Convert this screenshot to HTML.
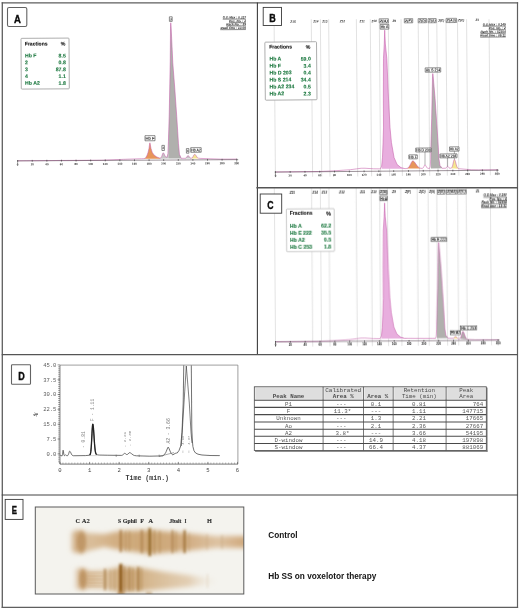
<!DOCTYPE html>
<html lang="en"><head><meta charset="utf-8"><title>Hemoglobin electrophoresis figure</title>
<style>html,body{margin:0;padding:0;background:#fff}svg{display:block}</style></head>
<body>
<svg width="520" height="610" viewBox="0 0 520 610">
<rect width="520" height="610" fill="#fff"/>
<filter id="soft" x="0" y="0" width="520" height="610" filterUnits="userSpaceOnUse"><feGaussianBlur stdDeviation="0.32"/></filter>
<g filter="url(#soft)">
<g id="panelA" transform="rotate(-0.327 17.65 160.9)">
<path d="M144.5,159.45 L144.5,159.21 L145.05,159 L146.05,157.94 L147.15,155.89 L148.1,153.21 L149.1,149.1 L149.75,144.37 L150,143.58 L150.25,144.37 L151,149.08 L152.3,153.16 L154.05,155.8 L156.85,157.8 L159.45,158.79 L160,158.83 L160,159.45 Z" fill="#e7955a" stroke="none"/>
<path d="M160.05,159.45 L160.05,158.84 L160.45,158.81 L161.05,158.52 L161.45,157.93 L161.85,156.99 L162.65,154.58 L162.85,154.11 L163.05,153.8 L163.25,153.68 L163.45,153.72 L163.85,154.19 L165.05,156.81 L165.45,157.43 L166.05,157.9 L166.85,157.97 L167.15,157.92 L167.97,154.36 L168.53,142.56 L168.93,131.47 L168.93,159.45 Z" fill="#c6c6c6" stroke="none"/>
<path d="M184.93,159.45 L184.93,159.32 L185.05,159.3 L185.85,159.04 L186.45,158.49 L187.65,156.81 L188.13,156.56 L188.45,156.68 L189.05,157.4 L189.85,158.56 L190.45,159.08 L191.05,159.25 L191.13,159.25 L191.13,159.45 Z" fill="#c6c6c6" stroke="none"/>
<path d="M168.73,159.45 L168.73,137.07 L169.49,115.86 L170.8,62.79 L171.29,27.57 L171.53,23.65 L171.81,26.44 L173.35,63.8 L175.29,90.84 L176.99,117.57 L178.53,144.19 L179.47,155.21 L181.25,159.29 L182.03,159.31 L182.03,159.45 Z" fill="#b0b0ad" stroke="none"/>
<path d="M191.74,159.45 L191.74,159.11 L191.85,159.05 L192.45,158.54 L193.05,157.65 L194.05,155.86 L194.45,155.43 L194.85,155.34 L195.25,155.56 L195.85,156.31 L197.05,158.18 L197.65,158.8 L198.34,159.2 L198.34,159.45 Z" fill="#f5e690" stroke="none"/>
<path d="M17.65,160.75 L101.65,160.68 L123.45,159.94 L141.65,159.4 L144.05,159.36 L145.05,159 L146.05,157.94 L147.15,155.89 L148.1,153.21 L149.1,149.1 L149.75,144.37 L150,143.58 L150.25,144.37 L151,149.08 L152.3,153.16 L154.05,155.8 L156.85,157.8 L159.45,158.79 L160.45,158.81 L161.05,158.52 L161.45,157.93 L161.85,156.99 L162.65,154.58 L162.85,154.11 L163.05,153.8 L163.25,153.68 L163.45,153.72 L163.85,154.19 L165.05,156.81 L165.45,157.43 L166.05,157.9 L166.85,157.97 L167.15,157.92 L167.97,154.36 L168.53,142.56 L169.49,115.86 L170.8,62.79 L171.29,27.57 L171.53,23.65 L171.81,26.44 L173.35,63.8 L175.29,90.84 L176.99,117.57 L178.53,144.19 L179.47,155.21 L181.25,159.29 L185.05,159.3 L185.85,159.04 L186.45,158.49 L187.65,156.81 L188.13,156.56 L188.45,156.68 L189.05,157.4 L189.85,158.56 L190.45,159.08 L191.05,159.25 L191.85,159.05 L192.45,158.54 L193.05,157.65 L194.05,155.86 L194.45,155.43 L194.85,155.34 L195.25,155.56 L195.85,156.31 L197.05,158.18 L197.65,158.8 L198.45,159.23 L200.05,159.44 L221.05,160.33 L237.05,160.35" fill="none" stroke="#c660aa" stroke-width="0.56" stroke-linejoin="round"/>
<line x1="17.15" y1="160.9" x2="238.2" y2="160.9" stroke="#5a4a55" stroke-width="0.6" />
<line x1="17.65" y1="160" x2="17.65" y2="161.8" stroke="#333" stroke-width="0.6" />
<text x="17.65" y="165.44" font-size="2.9" fill="#222" text-anchor="middle" font-weight="bold" font-style="normal" font-family="&quot;Liberation Sans&quot;, sans-serif" >0</text>
<line x1="32.25" y1="160" x2="32.25" y2="161.8" stroke="#333" stroke-width="0.6" />
<text x="32.25" y="165.44" font-size="2.9" fill="#222" text-anchor="middle" font-weight="bold" font-style="normal" font-family="&quot;Liberation Sans&quot;, sans-serif" >20</text>
<line x1="46.86" y1="160" x2="46.86" y2="161.8" stroke="#333" stroke-width="0.6" />
<text x="46.86" y="165.44" font-size="2.9" fill="#222" text-anchor="middle" font-weight="bold" font-style="normal" font-family="&quot;Liberation Sans&quot;, sans-serif" >40</text>
<line x1="61.46" y1="160" x2="61.46" y2="161.8" stroke="#333" stroke-width="0.6" />
<text x="61.46" y="165.44" font-size="2.9" fill="#222" text-anchor="middle" font-weight="bold" font-style="normal" font-family="&quot;Liberation Sans&quot;, sans-serif" >60</text>
<line x1="76.06" y1="160" x2="76.06" y2="161.8" stroke="#333" stroke-width="0.6" />
<text x="76.06" y="165.44" font-size="2.9" fill="#222" text-anchor="middle" font-weight="bold" font-style="normal" font-family="&quot;Liberation Sans&quot;, sans-serif" >80</text>
<line x1="90.67" y1="160" x2="90.67" y2="161.8" stroke="#333" stroke-width="0.6" />
<text x="90.67" y="165.44" font-size="2.9" fill="#222" text-anchor="middle" font-weight="bold" font-style="normal" font-family="&quot;Liberation Sans&quot;, sans-serif" >100</text>
<line x1="105.27" y1="160" x2="105.27" y2="161.8" stroke="#333" stroke-width="0.6" />
<text x="105.27" y="165.44" font-size="2.9" fill="#222" text-anchor="middle" font-weight="bold" font-style="normal" font-family="&quot;Liberation Sans&quot;, sans-serif" >120</text>
<line x1="119.87" y1="160" x2="119.87" y2="161.8" stroke="#333" stroke-width="0.6" />
<text x="119.87" y="165.44" font-size="2.9" fill="#222" text-anchor="middle" font-weight="bold" font-style="normal" font-family="&quot;Liberation Sans&quot;, sans-serif" >140</text>
<line x1="134.48" y1="160" x2="134.48" y2="161.8" stroke="#333" stroke-width="0.6" />
<text x="134.48" y="165.44" font-size="2.9" fill="#222" text-anchor="middle" font-weight="bold" font-style="normal" font-family="&quot;Liberation Sans&quot;, sans-serif" >160</text>
<line x1="149.08" y1="160" x2="149.08" y2="161.8" stroke="#333" stroke-width="0.6" />
<text x="149.08" y="165.44" font-size="2.9" fill="#222" text-anchor="middle" font-weight="bold" font-style="normal" font-family="&quot;Liberation Sans&quot;, sans-serif" >180</text>
<line x1="163.69" y1="160" x2="163.69" y2="161.8" stroke="#333" stroke-width="0.6" />
<text x="163.69" y="165.44" font-size="2.9" fill="#222" text-anchor="middle" font-weight="bold" font-style="normal" font-family="&quot;Liberation Sans&quot;, sans-serif" >200</text>
<line x1="178.29" y1="160" x2="178.29" y2="161.8" stroke="#333" stroke-width="0.6" />
<text x="178.29" y="165.44" font-size="2.9" fill="#222" text-anchor="middle" font-weight="bold" font-style="normal" font-family="&quot;Liberation Sans&quot;, sans-serif" >220</text>
<line x1="192.89" y1="160" x2="192.89" y2="161.8" stroke="#333" stroke-width="0.6" />
<text x="192.89" y="165.44" font-size="2.9" fill="#222" text-anchor="middle" font-weight="bold" font-style="normal" font-family="&quot;Liberation Sans&quot;, sans-serif" >240</text>
<line x1="207.5" y1="160" x2="207.5" y2="161.8" stroke="#333" stroke-width="0.6" />
<text x="207.5" y="165.44" font-size="2.9" fill="#222" text-anchor="middle" font-weight="bold" font-style="normal" font-family="&quot;Liberation Sans&quot;, sans-serif" >260</text>
<line x1="222.1" y1="160" x2="222.1" y2="161.8" stroke="#333" stroke-width="0.6" />
<text x="222.1" y="165.44" font-size="2.9" fill="#222" text-anchor="middle" font-weight="bold" font-style="normal" font-family="&quot;Liberation Sans&quot;, sans-serif" >280</text>
<line x1="236.7" y1="160" x2="236.7" y2="161.8" stroke="#333" stroke-width="0.6" />
<text x="236.7" y="165.44" font-size="2.9" fill="#222" text-anchor="middle" font-weight="bold" font-style="normal" font-family="&quot;Liberation Sans&quot;, sans-serif" >300</text>
<line x1="17.65" y1="160.1" x2="17.65" y2="165.9" stroke="#555" stroke-width="0.5" />
<line x1="236.7" y1="160.1" x2="236.7" y2="165.9" stroke="#777" stroke-width="0.5" />
<rect x="145.14" y="136.43" width="10" height="5.1" fill="#fff" stroke="#333" stroke-width="0.55" rx="0" />
<text x="150.14" y="140.42" font-size="4.0" fill="#000" text-anchor="middle" font-weight="normal" font-style="normal" font-family="&quot;Liberation Sans&quot;, sans-serif" textLength="9" lengthAdjust="spacingAndGlyphs" stroke="#000" stroke-width="0.06">Hb F</text>
<rect x="170.22" y="17.67" width="2.8" height="4.6" fill="#fff" stroke="#333" stroke-width="0.55" rx="0" />
<text x="171.62" y="21.12" font-size="3.2" fill="#000" text-anchor="middle" font-weight="normal" font-style="normal" font-family="&quot;Liberation Sans&quot;, sans-serif" textLength="1.8" lengthAdjust="spacingAndGlyphs" stroke="#000" stroke-width="0.06">3</text>
<rect x="161.99" y="146.22" width="2.5" height="5.1" fill="#fff" stroke="#333" stroke-width="0.55" rx="0" />
<text x="163.24" y="149.93" font-size="3.2" fill="#000" text-anchor="middle" font-weight="normal" font-style="normal" font-family="&quot;Liberation Sans&quot;, sans-serif" textLength="1.5" lengthAdjust="spacingAndGlyphs" stroke="#000" stroke-width="0.06">2</text>
<rect x="186.47" y="149.56" width="2.5" height="4.6" fill="#fff" stroke="#333" stroke-width="0.55" rx="0" />
<text x="187.72" y="153.02" font-size="3.2" fill="#000" text-anchor="middle" font-weight="normal" font-style="normal" font-family="&quot;Liberation Sans&quot;, sans-serif" textLength="1.5" lengthAdjust="spacingAndGlyphs" stroke="#000" stroke-width="0.06">4</text>
<rect x="190.77" y="148.69" width="10.5" height="4.6" fill="#fff" stroke="#333" stroke-width="0.55" rx="0" />
<text x="196.02" y="152.43" font-size="4.0" fill="#000" text-anchor="middle" font-weight="normal" font-style="normal" font-family="&quot;Liberation Sans&quot;, sans-serif" textLength="9.5" lengthAdjust="spacingAndGlyphs" stroke="#000" stroke-width="0.06">Hb A2</text>
<rect x="21.7" y="38.37" width="48" height="50.75" fill="#fff" stroke="#9a9a9a" stroke-width="0.8" rx="0.8" />
<text x="25.46" y="45.64" font-size="5.2" fill="#151515" text-anchor="start" font-weight="bold" font-style="normal" font-family="&quot;Liberation Sans&quot;, sans-serif" textLength="22.8" lengthAdjust="spacingAndGlyphs" stroke="#151515" stroke-width="0.12">Fractions</text>
<text x="66.16" y="45.87" font-size="5.2" fill="#151515" text-anchor="end" font-weight="bold" font-style="normal" font-family="&quot;Liberation Sans&quot;, sans-serif" stroke="#151515" stroke-width="0.12">%</text>
<text x="25.59" y="57.44" font-size="5.2" fill="#1f7a42" text-anchor="start" font-weight="bold" font-style="normal" font-family="&quot;Liberation Sans&quot;, sans-serif" stroke="#1f7a42" stroke-width="0.12">Hb F</text>
<text x="66.39" y="57.68" font-size="5.2" fill="#1f7a42" text-anchor="end" font-weight="bold" font-style="normal" font-family="&quot;Liberation Sans&quot;, sans-serif" stroke="#1f7a42" stroke-width="0.12">8.5</text>
<text x="25.55" y="64.31" font-size="5.2" fill="#1f7a42" text-anchor="start" font-weight="bold" font-style="normal" font-family="&quot;Liberation Sans&quot;, sans-serif" stroke="#1f7a42" stroke-width="0.12">2</text>
<text x="66.35" y="64.55" font-size="5.2" fill="#1f7a42" text-anchor="end" font-weight="bold" font-style="normal" font-family="&quot;Liberation Sans&quot;, sans-serif" stroke="#1f7a42" stroke-width="0.12">0.8</text>
<text x="25.51" y="71.18" font-size="5.2" fill="#1f7a42" text-anchor="start" font-weight="bold" font-style="normal" font-family="&quot;Liberation Sans&quot;, sans-serif" stroke="#1f7a42" stroke-width="0.12">3</text>
<text x="66.31" y="71.42" font-size="5.2" fill="#1f7a42" text-anchor="end" font-weight="bold" font-style="normal" font-family="&quot;Liberation Sans&quot;, sans-serif" stroke="#1f7a42" stroke-width="0.12">87.8</text>
<text x="25.47" y="78.05" font-size="5.2" fill="#1f7a42" text-anchor="start" font-weight="bold" font-style="normal" font-family="&quot;Liberation Sans&quot;, sans-serif" stroke="#1f7a42" stroke-width="0.12">4</text>
<text x="66.27" y="78.29" font-size="5.2" fill="#1f7a42" text-anchor="end" font-weight="bold" font-style="normal" font-family="&quot;Liberation Sans&quot;, sans-serif" stroke="#1f7a42" stroke-width="0.12">1.1</text>
<text x="25.43" y="84.92" font-size="5.2" fill="#1f7a42" text-anchor="start" font-weight="bold" font-style="normal" font-family="&quot;Liberation Sans&quot;, sans-serif" stroke="#1f7a42" stroke-width="0.12">Hb A2</text>
<text x="66.23" y="85.16" font-size="5.2" fill="#1f7a42" text-anchor="end" font-weight="bold" font-style="normal" font-family="&quot;Liberation Sans&quot;, sans-serif" stroke="#1f7a42" stroke-width="0.12">1.8</text>
<text x="246.71" y="19.8" font-size="3.3" fill="#1c1c1c" text-anchor="end" font-weight="bold" font-style="italic" font-family="&quot;Liberation Sans&quot;, sans-serif" textLength="23.2" lengthAdjust="spacingAndGlyphs">O.D.Max : 0.327</text>
<line x1="223.51" y1="20.35" x2="246.71" y2="20.35" stroke="#2a2a2a" stroke-width="0.55" />
<text x="246.69" y="23.4" font-size="3.3" fill="#1c1c1c" text-anchor="end" font-weight="bold" font-style="italic" font-family="&quot;Liberation Sans&quot;, sans-serif" textLength="16.9" lengthAdjust="spacingAndGlyphs">Pos. No. : 2</text>
<line x1="229.79" y1="23.95" x2="246.69" y2="23.95" stroke="#2a2a2a" stroke-width="0.55" />
<text x="246.67" y="26.65" font-size="3.3" fill="#1c1c1c" text-anchor="end" font-weight="bold" font-style="italic" font-family="&quot;Liberation Sans&quot;, sans-serif" textLength="19.7" lengthAdjust="spacingAndGlyphs">Rack No. : 19</text>
<line x1="226.97" y1="27.2" x2="246.67" y2="27.2" stroke="#2a2a2a" stroke-width="0.55" />
<text x="246.65" y="30.3" font-size="3.3" fill="#1c1c1c" text-anchor="end" font-weight="bold" font-style="italic" font-family="&quot;Liberation Sans&quot;, sans-serif" textLength="25.5" lengthAdjust="spacingAndGlyphs">Read time : 13:08</text>
<line x1="221.15" y1="30.85" x2="246.65" y2="30.85" stroke="#2a2a2a" stroke-width="0.55" />
</g>
<rect x="7.5" y="7.5" width="19.3" height="19" fill="#fff" stroke="#636363" stroke-width="1.1" rx="1.6" />
<text x="17.45" y="22.7" font-size="10.75" fill="#0a0a0a" text-anchor="middle" font-weight="bold" font-style="normal" font-family="&quot;Liberation Sans&quot;, sans-serif" textLength="6.9" lengthAdjust="spacingAndGlyphs" stroke="#0a0a0a" stroke-width="0.35">A</text>
<g id="panelB" transform="rotate(-0.491 275.4 172.1)">
<line x1="275.4" y1="19.21" x2="275.4" y2="177.1" stroke="#cbcbcb" stroke-width="0.55" />
<line x1="312.58" y1="19.51" x2="312.58" y2="177.1" stroke="#cbcbcb" stroke-width="0.55" />
<line x1="321.68" y1="19.59" x2="321.68" y2="177.1" stroke="#cbcbcb" stroke-width="0.55" />
<line x1="329.98" y1="19.66" x2="329.98" y2="177.1" stroke="#cbcbcb" stroke-width="0.55" />
<line x1="357.68" y1="19.9" x2="357.68" y2="177.1" stroke="#cbcbcb" stroke-width="0.55" />
<line x1="371.58" y1="20.02" x2="371.58" y2="177.1" stroke="#cbcbcb" stroke-width="0.55" />
<line x1="380.61" y1="20.1" x2="380.61" y2="177.1" stroke="#cbcbcb" stroke-width="0.55" />
<line x1="389.61" y1="20.17" x2="389.61" y2="177.1" stroke="#cbcbcb" stroke-width="0.55" />
<line x1="402.34" y1="20.28" x2="402.34" y2="177.1" stroke="#cbcbcb" stroke-width="0.55" />
<line x1="419.48" y1="20.43" x2="419.48" y2="177.1" stroke="#cbcbcb" stroke-width="0.55" />
<line x1="429.68" y1="20.52" x2="429.68" y2="177.1" stroke="#cbcbcb" stroke-width="0.55" />
<line x1="438.08" y1="20.59" x2="438.08" y2="177.1" stroke="#cbcbcb" stroke-width="0.55" />
<line x1="447.28" y1="20.67" x2="447.28" y2="177.1" stroke="#cbcbcb" stroke-width="0.55" />
<line x1="458.78" y1="20.77" x2="458.78" y2="177.1" stroke="#cbcbcb" stroke-width="0.55" />
<line x1="467.88" y1="20.84" x2="467.88" y2="177.1" stroke="#cbcbcb" stroke-width="0.55" />
<line x1="490.31" y1="21.04" x2="490.31" y2="177.1" stroke="#cbcbcb" stroke-width="0.55" />
<path d="M381.7,169.75 L381.7,166.98 L382.6,158.66 L383.3,143.68 L383.9,128.85 L384,99.03 L384.45,59.52 L385.35,44.96 L385.9,31.09 L386.45,44.96 L387.8,59.52 L389.1,99.03 L390.4,128.85 L391.7,143.68 L394.2,158.66 L397.2,165.59 L401,168.67 L405,169.74 L406.9,169.56 L406.9,169.75 Z" fill="#e8aede" stroke="none"/>
<path d="M407.29,169.75 L407.29,169.45 L408,169.1 L408.8,168.39 L409.6,167.26 L410.6,165.31 L411.6,163.33 L412.2,162.49 L412.6,162.19 L413.2,162.17 L413.8,162.47 L414.6,163.27 L416,165.3 L417.4,167.29 L418.4,168.34 L419.6,169.13 L420.29,169.39 L420.29,169.75 Z" fill="#e7955a" stroke="none"/>
<path d="M431.03,169.75 L431.03,151.69 L431.35,140.35 L432.13,120.14 L432.8,96.85 L433.35,77.75 L433.63,74.9 L433.91,76.8 L435.71,100.04 L438.05,140.35 L439.08,160.45 L440.02,166.9 L442.3,169.75 L442.83,169.75 L442.83,169.75 Z" fill="#b0b0ad" stroke="none"/>
<path d="M451.5,169.82 L451.5,169.42 L451.8,169.11 L452.2,168.4 L452.6,167.27 L453,165.73 L453.6,163.07 L453.8,162.28 L454,161.63 L454.2,161.17 L454.4,160.94 L454.6,160.94 L454.8,161.14 L455,161.51 L455.2,162.03 L455.6,163.4 L456.4,166.51 L456.8,167.8 L457.2,168.77 L457.6,169.43 L457.9,169.76 L457.9,170.23 Z" fill="#f5e690" stroke="none"/>
<path d="M275.4,171.95 L318.6,171.88 L334.8,171.28 L350.2,170.37 L356.6,169.56 L361.2,169 L365,169.01 L373.8,169.65 L380.4,169.75 L381.7,166.98 L382.6,158.66 L383.3,143.68 L383.9,128.85 L384,99.03 L384.45,59.52 L385.35,44.96 L385.9,31.09 L386.45,44.96 L387.8,59.52 L389.1,99.03 L390.4,128.85 L391.7,143.68 L394.2,158.66 L397.2,165.59 L401,168.67 L405,169.74 L407,169.54 L408,169.1 L408.8,168.39 L409.6,167.26 L410.6,165.31 L411.6,163.33 L412.2,162.49 L412.6,162.19 L413.2,162.17 L413.8,162.47 L414.6,163.27 L416,165.3 L417.4,167.29 L418.4,168.34 L419.6,169.13 L421,169.55 L422.2,169.63 L422.8,169.44 L423.4,168.84 L424,167.72 L424.6,166.57 L424.8,166.34 L425.05,166.23 L425.4,166.4 L425.8,166.95 L426.8,168.75 L427.4,169.39 L428.2,169.69 L429.6,169.74 L430.31,167.85 L430.78,160.45 L431.35,140.35 L432.13,120.14 L432.8,96.85 L433.35,77.75 L433.63,74.9 L433.91,76.8 L435.71,100.04 L438.05,140.35 L439.08,160.45 L440.02,166.9 L442.3,169.75 L445.6,169.67 L446.2,169.35 L446.8,168.58 L447.2,168.01 L447.6,167.73 L448,167.92 L449,169.28 L449.6,169.66 L450.6,169.74 L451.4,169.49 L451.8,169.11 L452.2,168.4 L452.6,167.27 L453,165.73 L453.6,163.07 L453.8,162.28 L454,161.63 L454.2,161.17 L454.4,160.94 L454.6,160.94 L454.8,161.14 L455,161.51 L455.2,162.03 L455.6,163.4 L456.4,166.51 L456.8,167.8 L457.2,168.77 L457.6,169.43 L458.2,169.98 L459.2,170.31 L471.8,171.44 L478.6,171.65 L498,171.65" fill="none" stroke="#c660aa" stroke-width="0.56" stroke-linejoin="round"/>
<line x1="274.9" y1="172.1" x2="498.71" y2="172.1" stroke="#5a4a55" stroke-width="0.6" />
<line x1="275.4" y1="171.2" x2="275.4" y2="173" stroke="#333" stroke-width="0.6" />
<text x="275.4" y="176.64" font-size="2.9" fill="#222" text-anchor="middle" font-weight="bold" font-style="normal" font-family="&quot;Liberation Sans&quot;, sans-serif" >0</text>
<line x1="290.19" y1="171.2" x2="290.19" y2="173" stroke="#333" stroke-width="0.6" />
<text x="290.19" y="176.64" font-size="2.9" fill="#222" text-anchor="middle" font-weight="bold" font-style="normal" font-family="&quot;Liberation Sans&quot;, sans-serif" >20</text>
<line x1="304.97" y1="171.2" x2="304.97" y2="173" stroke="#333" stroke-width="0.6" />
<text x="304.97" y="176.64" font-size="2.9" fill="#222" text-anchor="middle" font-weight="bold" font-style="normal" font-family="&quot;Liberation Sans&quot;, sans-serif" >40</text>
<line x1="319.76" y1="171.2" x2="319.76" y2="173" stroke="#333" stroke-width="0.6" />
<text x="319.76" y="176.64" font-size="2.9" fill="#222" text-anchor="middle" font-weight="bold" font-style="normal" font-family="&quot;Liberation Sans&quot;, sans-serif" >60</text>
<line x1="334.55" y1="171.2" x2="334.55" y2="173" stroke="#333" stroke-width="0.6" />
<text x="334.55" y="176.64" font-size="2.9" fill="#222" text-anchor="middle" font-weight="bold" font-style="normal" font-family="&quot;Liberation Sans&quot;, sans-serif" >80</text>
<line x1="349.34" y1="171.2" x2="349.34" y2="173" stroke="#333" stroke-width="0.6" />
<text x="349.34" y="176.64" font-size="2.9" fill="#222" text-anchor="middle" font-weight="bold" font-style="normal" font-family="&quot;Liberation Sans&quot;, sans-serif" >100</text>
<line x1="364.12" y1="171.2" x2="364.12" y2="173" stroke="#333" stroke-width="0.6" />
<text x="364.12" y="176.64" font-size="2.9" fill="#222" text-anchor="middle" font-weight="bold" font-style="normal" font-family="&quot;Liberation Sans&quot;, sans-serif" >120</text>
<line x1="378.91" y1="171.2" x2="378.91" y2="173" stroke="#333" stroke-width="0.6" />
<text x="378.91" y="176.64" font-size="2.9" fill="#222" text-anchor="middle" font-weight="bold" font-style="normal" font-family="&quot;Liberation Sans&quot;, sans-serif" >140</text>
<line x1="393.7" y1="171.2" x2="393.7" y2="173" stroke="#333" stroke-width="0.6" />
<text x="393.7" y="176.64" font-size="2.9" fill="#222" text-anchor="middle" font-weight="bold" font-style="normal" font-family="&quot;Liberation Sans&quot;, sans-serif" >160</text>
<line x1="408.48" y1="171.2" x2="408.48" y2="173" stroke="#333" stroke-width="0.6" />
<text x="408.48" y="176.64" font-size="2.9" fill="#222" text-anchor="middle" font-weight="bold" font-style="normal" font-family="&quot;Liberation Sans&quot;, sans-serif" >180</text>
<line x1="423.27" y1="171.2" x2="423.27" y2="173" stroke="#333" stroke-width="0.6" />
<text x="423.27" y="176.64" font-size="2.9" fill="#222" text-anchor="middle" font-weight="bold" font-style="normal" font-family="&quot;Liberation Sans&quot;, sans-serif" >200</text>
<line x1="438.06" y1="171.2" x2="438.06" y2="173" stroke="#333" stroke-width="0.6" />
<text x="438.06" y="176.64" font-size="2.9" fill="#222" text-anchor="middle" font-weight="bold" font-style="normal" font-family="&quot;Liberation Sans&quot;, sans-serif" >220</text>
<line x1="452.85" y1="171.2" x2="452.85" y2="173" stroke="#333" stroke-width="0.6" />
<text x="452.85" y="176.64" font-size="2.9" fill="#222" text-anchor="middle" font-weight="bold" font-style="normal" font-family="&quot;Liberation Sans&quot;, sans-serif" >240</text>
<line x1="467.63" y1="171.2" x2="467.63" y2="173" stroke="#333" stroke-width="0.6" />
<text x="467.63" y="176.64" font-size="2.9" fill="#222" text-anchor="middle" font-weight="bold" font-style="normal" font-family="&quot;Liberation Sans&quot;, sans-serif" >260</text>
<line x1="482.42" y1="171.2" x2="482.42" y2="173" stroke="#333" stroke-width="0.6" />
<text x="482.42" y="176.64" font-size="2.9" fill="#222" text-anchor="middle" font-weight="bold" font-style="normal" font-family="&quot;Liberation Sans&quot;, sans-serif" >280</text>
<line x1="497.21" y1="171.2" x2="497.21" y2="173" stroke="#333" stroke-width="0.6" />
<text x="497.21" y="176.64" font-size="2.9" fill="#222" text-anchor="middle" font-weight="bold" font-style="normal" font-family="&quot;Liberation Sans&quot;, sans-serif" >300</text>
<line x1="275.4" y1="171.3" x2="275.4" y2="177.1" stroke="#555" stroke-width="0.5" />
<line x1="497.21" y1="171.3" x2="497.21" y2="177.1" stroke="#777" stroke-width="0.5" />
<text x="294.29" y="22.87" font-size="3.1" fill="#2a2a2a" text-anchor="middle" font-weight="bold" font-style="italic" font-family="&quot;Liberation Sans&quot;, sans-serif" >Z15</text>
<text x="317.19" y="22.77" font-size="3.1" fill="#2a2a2a" text-anchor="middle" font-weight="bold" font-style="italic" font-family="&quot;Liberation Sans&quot;, sans-serif" >Z14</text>
<text x="326.09" y="22.84" font-size="3.1" fill="#2a2a2a" text-anchor="middle" font-weight="bold" font-style="italic" font-family="&quot;Liberation Sans&quot;, sans-serif" >Z13</text>
<text x="343.59" y="22.89" font-size="3.1" fill="#2a2a2a" text-anchor="middle" font-weight="bold" font-style="italic" font-family="&quot;Liberation Sans&quot;, sans-serif" >Z12</text>
<text x="363.39" y="22.96" font-size="3.1" fill="#2a2a2a" text-anchor="middle" font-weight="bold" font-style="italic" font-family="&quot;Liberation Sans&quot;, sans-serif" >Z11</text>
<text x="375.39" y="22.97" font-size="3.1" fill="#2a2a2a" text-anchor="middle" font-weight="bold" font-style="italic" font-family="&quot;Liberation Sans&quot;, sans-serif" >Z10</text>
<rect x="380.51" y="19.69" width="9.2" height="4.2" fill="#f7f7f7" stroke="#4a4a4a" stroke-width="0.55" rx="0" />
<text x="385.11" y="22.91" font-size="3.1" fill="#2a2a2a" text-anchor="middle" font-weight="bold" font-style="italic" font-family="&quot;Liberation Sans&quot;, sans-serif" textLength="8.2" lengthAdjust="spacingAndGlyphs" stroke="#2a2a2a" stroke-width="0">Z(A)</text>
<text x="395.59" y="22.94" font-size="3.1" fill="#2a2a2a" text-anchor="middle" font-weight="bold" font-style="italic" font-family="&quot;Liberation Sans&quot;, sans-serif" >Z9</text>
<rect x="405.61" y="19.81" width="8.4" height="4.2" fill="#f7f7f7" stroke="#4a4a4a" stroke-width="0.55" rx="0" />
<text x="409.81" y="23.03" font-size="3.1" fill="#2a2a2a" text-anchor="middle" font-weight="bold" font-style="italic" font-family="&quot;Liberation Sans&quot;, sans-serif" textLength="7.4" lengthAdjust="spacingAndGlyphs" stroke="#2a2a2a" stroke-width="0">Z(F)</text>
<rect x="419.51" y="19.83" width="8.3" height="4.2" fill="#f7f7f7" stroke="#4a4a4a" stroke-width="0.55" rx="0" />
<text x="423.66" y="23.04" font-size="3.1" fill="#2a2a2a" text-anchor="middle" font-weight="bold" font-style="italic" font-family="&quot;Liberation Sans&quot;, sans-serif" textLength="7.3" lengthAdjust="spacingAndGlyphs" stroke="#2a2a2a" stroke-width="0">Z(D)</text>
<rect x="429.41" y="19.91" width="8.1" height="4.2" fill="#f7f7f7" stroke="#4a4a4a" stroke-width="0.55" rx="0" />
<text x="433.46" y="23.13" font-size="3.1" fill="#2a2a2a" text-anchor="middle" font-weight="bold" font-style="italic" font-family="&quot;Liberation Sans&quot;, sans-serif" textLength="7.1" lengthAdjust="spacingAndGlyphs" stroke="#2a2a2a" stroke-width="0">Z(S)</text>
<text x="442.49" y="23.04" font-size="3.1" fill="#2a2a2a" text-anchor="middle" font-weight="bold" font-style="italic" font-family="&quot;Liberation Sans&quot;, sans-serif" >Z(E)</text>
<rect x="447.41" y="19.87" width="10.4" height="4.2" fill="#f7f7f7" stroke="#4a4a4a" stroke-width="0.55" rx="0" />
<text x="452.61" y="23.08" font-size="3.1" fill="#2a2a2a" text-anchor="middle" font-weight="bold" font-style="italic" font-family="&quot;Liberation Sans&quot;, sans-serif" textLength="9.4" lengthAdjust="spacingAndGlyphs" stroke="#2a2a2a" stroke-width="0">Z(A2)</text>
<text x="462.39" y="22.91" font-size="3.1" fill="#2a2a2a" text-anchor="middle" font-weight="bold" font-style="italic" font-family="&quot;Liberation Sans&quot;, sans-serif" >Z(C)</text>
<text x="478.5" y="22.65" font-size="3.1" fill="#2a2a2a" text-anchor="middle" font-weight="bold" font-style="italic" font-family="&quot;Liberation Sans&quot;, sans-serif" >Z1</text>
<rect x="381.46" y="25.3" width="8.6" height="4.8" fill="#f6f6f6" stroke="#333" stroke-width="0.55" rx="0" />
<text x="385.76" y="29.07" font-size="3.8" fill="#000" text-anchor="middle" font-weight="normal" font-style="normal" font-family="&quot;Liberation Sans&quot;, sans-serif" textLength="7.6" lengthAdjust="spacingAndGlyphs" stroke="#000" stroke-width="0.06">Hb A</text>
<rect x="408.94" y="156.04" width="8.5" height="4" fill="#fff" stroke="#333" stroke-width="0.55" rx="0" />
<text x="413.19" y="159.34" font-size="3.6" fill="#000" text-anchor="middle" font-weight="normal" font-style="normal" font-family="&quot;Liberation Sans&quot;, sans-serif" textLength="7.5" lengthAdjust="spacingAndGlyphs" stroke="#000" stroke-width="0.06">Hb F</text>
<line x1="425.17" y1="153.28" x2="425.06" y2="166.28" stroke="#555" stroke-width="0.45" />
<line x1="447.72" y1="159.38" x2="447.64" y2="167.98" stroke="#555" stroke-width="0.45" />
<line x1="454.57" y1="152.73" x2="454.5" y2="161.03" stroke="#555" stroke-width="0.45" />
<rect x="415.9" y="149.3" width="15.4" height="3.9" fill="#fff" stroke="#333" stroke-width="0.55" rx="0" />
<text x="423.6" y="152.55" font-size="3.6" fill="#000" text-anchor="middle" font-weight="normal" font-style="normal" font-family="&quot;Liberation Sans&quot;, sans-serif" textLength="14.4" lengthAdjust="spacingAndGlyphs" stroke="#000" stroke-width="0.06">Hb D 203</text>
<rect x="426.09" y="69.19" width="15.5" height="4.3" fill="#fff" stroke="#333" stroke-width="0.55" rx="0" />
<text x="433.84" y="72.71" font-size="3.8" fill="#000" text-anchor="middle" font-weight="normal" font-style="normal" font-family="&quot;Liberation Sans&quot;, sans-serif" textLength="14.5" lengthAdjust="spacingAndGlyphs" stroke="#000" stroke-width="0.06">Hb S 214</text>
<rect x="440.05" y="155.41" width="17.1" height="3.9" fill="#fff" stroke="#333" stroke-width="0.55" rx="0" />
<text x="448.6" y="158.66" font-size="3.6" fill="#000" text-anchor="middle" font-weight="normal" font-style="normal" font-family="&quot;Liberation Sans&quot;, sans-serif" textLength="16.1" lengthAdjust="spacingAndGlyphs" stroke="#000" stroke-width="0.06">Hb A2 234</text>
<rect x="449.71" y="148.39" width="9.5" height="4.3" fill="#fff" stroke="#333" stroke-width="0.55" rx="0" />
<text x="454.46" y="151.84" font-size="3.6" fill="#000" text-anchor="middle" font-weight="normal" font-style="normal" font-family="&quot;Liberation Sans&quot;, sans-serif" textLength="8.5" lengthAdjust="spacingAndGlyphs" stroke="#000" stroke-width="0.06">Hb A2</text>
<rect x="265.96" y="42.06" width="51.65" height="58.05" fill="#fff" stroke="#9a9a9a" stroke-width="0.8" rx="0.8" />
<text x="270.26" y="48.55" font-size="5.2" fill="#151515" text-anchor="start" font-weight="bold" font-style="normal" font-family="&quot;Liberation Sans&quot;, sans-serif" textLength="22.8" lengthAdjust="spacingAndGlyphs" stroke="#151515" stroke-width="0.12">Fractions</text>
<text x="311.56" y="48.91" font-size="5.2" fill="#151515" text-anchor="end" font-weight="bold" font-style="normal" font-family="&quot;Liberation Sans&quot;, sans-serif" stroke="#151515" stroke-width="0.12">%</text>
<text x="270.36" y="60.55" font-size="5.2" fill="#1f7a42" text-anchor="start" font-weight="bold" font-style="normal" font-family="&quot;Liberation Sans&quot;, sans-serif" stroke="#1f7a42" stroke-width="0.12">Hb A</text>
<text x="311.75" y="60.91" font-size="5.2" fill="#1f7a42" text-anchor="end" font-weight="bold" font-style="normal" font-family="&quot;Liberation Sans&quot;, sans-serif" stroke="#1f7a42" stroke-width="0.12">59.0</text>
<text x="270.3" y="67.52" font-size="5.2" fill="#1f7a42" text-anchor="start" font-weight="bold" font-style="normal" font-family="&quot;Liberation Sans&quot;, sans-serif" stroke="#1f7a42" stroke-width="0.12">Hb F</text>
<text x="311.69" y="67.88" font-size="5.2" fill="#1f7a42" text-anchor="end" font-weight="bold" font-style="normal" font-family="&quot;Liberation Sans&quot;, sans-serif" stroke="#1f7a42" stroke-width="0.12">3.4</text>
<text x="270.24" y="74.49" font-size="5.2" fill="#1f7a42" text-anchor="start" font-weight="bold" font-style="normal" font-family="&quot;Liberation Sans&quot;, sans-serif" stroke="#1f7a42" stroke-width="0.12">Hb D 203</text>
<text x="311.63" y="74.85" font-size="5.2" fill="#1f7a42" text-anchor="end" font-weight="bold" font-style="normal" font-family="&quot;Liberation Sans&quot;, sans-serif" stroke="#1f7a42" stroke-width="0.12">0.4</text>
<text x="270.18" y="81.46" font-size="5.2" fill="#1f7a42" text-anchor="start" font-weight="bold" font-style="normal" font-family="&quot;Liberation Sans&quot;, sans-serif" stroke="#1f7a42" stroke-width="0.12">Hb S 214</text>
<text x="311.57" y="81.82" font-size="5.2" fill="#1f7a42" text-anchor="end" font-weight="bold" font-style="normal" font-family="&quot;Liberation Sans&quot;, sans-serif" stroke="#1f7a42" stroke-width="0.12">34.4</text>
<text x="270.12" y="88.43" font-size="5.2" fill="#1f7a42" text-anchor="start" font-weight="bold" font-style="normal" font-family="&quot;Liberation Sans&quot;, sans-serif" stroke="#1f7a42" stroke-width="0.12">Hb A2 234</text>
<text x="311.51" y="88.79" font-size="5.2" fill="#1f7a42" text-anchor="end" font-weight="bold" font-style="normal" font-family="&quot;Liberation Sans&quot;, sans-serif" stroke="#1f7a42" stroke-width="0.12">0.5</text>
<text x="270.06" y="95.4" font-size="5.2" fill="#1f7a42" text-anchor="start" font-weight="bold" font-style="normal" font-family="&quot;Liberation Sans&quot;, sans-serif" stroke="#1f7a42" stroke-width="0.12">Hb A2</text>
<text x="311.46" y="95.76" font-size="5.2" fill="#1f7a42" text-anchor="end" font-weight="bold" font-style="normal" font-family="&quot;Liberation Sans&quot;, sans-serif" stroke="#1f7a42" stroke-width="0.12">2.3</text>
<text x="507.04" y="27.48" font-size="3.3" fill="#1c1c1c" text-anchor="end" font-weight="bold" font-style="italic" font-family="&quot;Liberation Sans&quot;, sans-serif" textLength="23.1" lengthAdjust="spacingAndGlyphs">O.D.Max : 0.149</text>
<line x1="483.94" y1="28.03" x2="507.04" y2="28.03" stroke="#2a2a2a" stroke-width="0.55" />
<text x="507.01" y="31.08" font-size="3.3" fill="#1c1c1c" text-anchor="end" font-weight="bold" font-style="italic" font-family="&quot;Liberation Sans&quot;, sans-serif" textLength="17" lengthAdjust="spacingAndGlyphs">Pos. No. : 2</text>
<line x1="490.01" y1="31.63" x2="507.01" y2="31.63" stroke="#2a2a2a" stroke-width="0.55" />
<text x="506.98" y="34.68" font-size="3.3" fill="#1c1c1c" text-anchor="end" font-weight="bold" font-style="italic" font-family="&quot;Liberation Sans&quot;, sans-serif" textLength="25.3" lengthAdjust="spacingAndGlyphs">Rack No. : 52354</text>
<line x1="481.68" y1="35.23" x2="506.98" y2="35.23" stroke="#2a2a2a" stroke-width="0.55" />
<text x="506.95" y="38.38" font-size="3.3" fill="#1c1c1c" text-anchor="end" font-weight="bold" font-style="italic" font-family="&quot;Liberation Sans&quot;, sans-serif" textLength="25.6" lengthAdjust="spacingAndGlyphs">Read time : 09:11</text>
<line x1="481.35" y1="38.93" x2="506.95" y2="38.93" stroke="#2a2a2a" stroke-width="0.55" />
</g>
<rect x="263.2" y="7.4" width="18.3" height="18.1" fill="#fff" stroke="#3a3a3a" stroke-width="0.9" rx="0" />
<text x="272.6" y="21.85" font-size="10.5" fill="#0a0a0a" text-anchor="middle" font-weight="bold" font-style="normal" font-family="&quot;Liberation Sans&quot;, sans-serif" textLength="6.5" lengthAdjust="spacingAndGlyphs" stroke="#0a0a0a" stroke-width="0.35">B</text>
<clipPath id="clipC"><rect x="258" y="188.6" width="259" height="166"/></clipPath>
<g clip-path="url(#clipC)">
<g id="panelC" transform="rotate(-0.438 275.5 341.9)">
<line x1="275.5" y1="186" x2="275.5" y2="346.9" stroke="#cbcbcb" stroke-width="0.55" />
<line x1="312.72" y1="186.28" x2="312.72" y2="346.9" stroke="#cbcbcb" stroke-width="0.55" />
<line x1="321.52" y1="186.35" x2="321.52" y2="346.9" stroke="#cbcbcb" stroke-width="0.55" />
<line x1="330.02" y1="186.41" x2="330.02" y2="346.9" stroke="#cbcbcb" stroke-width="0.55" />
<line x1="357.32" y1="186.62" x2="357.32" y2="346.9" stroke="#cbcbcb" stroke-width="0.55" />
<line x1="372.32" y1="186.74" x2="372.32" y2="346.9" stroke="#cbcbcb" stroke-width="0.55" />
<line x1="380.78" y1="186.8" x2="380.78" y2="346.9" stroke="#cbcbcb" stroke-width="0.55" />
<line x1="388.58" y1="186.86" x2="388.58" y2="346.9" stroke="#cbcbcb" stroke-width="0.55" />
<line x1="401.92" y1="186.96" x2="401.92" y2="346.9" stroke="#cbcbcb" stroke-width="0.55" />
<line x1="418.32" y1="187.09" x2="418.32" y2="346.9" stroke="#cbcbcb" stroke-width="0.55" />
<line x1="429.22" y1="187.17" x2="429.22" y2="346.9" stroke="#cbcbcb" stroke-width="0.55" />
<line x1="437.92" y1="187.24" x2="437.92" y2="346.9" stroke="#cbcbcb" stroke-width="0.55" />
<line x1="447.62" y1="187.31" x2="447.62" y2="346.9" stroke="#cbcbcb" stroke-width="0.55" />
<line x1="458.72" y1="187.4" x2="458.72" y2="346.9" stroke="#cbcbcb" stroke-width="0.55" />
<line x1="467.32" y1="187.46" x2="467.32" y2="346.9" stroke="#cbcbcb" stroke-width="0.55" />
<line x1="491.52" y1="187.65" x2="491.52" y2="346.9" stroke="#cbcbcb" stroke-width="0.55" />
<path d="M381.45,339.55 L381.45,336.75 L382.35,328.6 L383.05,313.96 L383.65,299.45 L383.75,270.36 L384.2,231.76 L385.1,217.43 L385.65,203.79 L386.2,217.16 L387.55,231.02 L388.85,269.58 L390.15,298.71 L391.45,313.25 L393.95,328.01 L396.95,334.96 L400.7,338.11 L404.7,339.29 L406.65,339.33 L406.65,339.55 Z" fill="#e8aede" stroke="none"/>
<path d="M436.84,339.55 L436.84,323.78 L437.23,309.83 L437.99,289.43 L438.7,263.58 L439.17,246.64 L439.44,243.76 L439.73,245.68 L441.55,269.14 L443.93,309.84 L444.97,330.14 L445.92,336.65 L448.2,339.52 L448.84,339.53 L448.84,339.55 Z" fill="#b0b0ad" stroke="none"/>
<path d="M453.43,339.71 L453.43,339.52 L453.9,339.29 L455.3,337.99 L455.7,337.92 L456.3,338.29 L457.5,339.53 L458.03,339.85 L458.03,340.05 Z" fill="#f5e690" stroke="none"/>
<path d="M460.37,340.25 L460.37,339.5 L460.7,338.99 L461.1,338.03 L461.5,336.72 L462.1,334.5 L462.3,333.86 L462.5,333.33 L462.7,332.98 L462.97,332.81 L463.3,333 L463.7,333.64 L464.1,334.61 L465.3,338.04 L465.9,339.32 L466.5,340.14 L467.17,340.63 L467.17,340.89 Z" fill="#b3a9ad" stroke="none"/>
<path d="M275.5,341.75 L318.5,341.68 L334.5,341.09 L350.1,340.18 L356.5,339.37 L361.1,338.8 L364.9,338.8 L373.7,339.43 L380.15,339.48 L381.45,336.75 L382.35,328.6 L383.05,313.96 L383.65,299.45 L383.75,270.36 L384.2,231.76 L385.1,217.43 L385.65,203.79 L386.2,217.16 L387.55,231.02 L388.85,269.58 L390.15,298.71 L391.45,313.25 L393.95,328.01 L396.95,334.96 L400.7,338.11 L404.7,339.29 L432.1,339.5 L435.5,339.5 L436.21,337.59 L436.67,330.13 L437.23,309.83 L437.99,289.43 L438.7,263.58 L439.17,246.64 L439.44,243.76 L439.73,245.68 L441.55,269.14 L443.93,309.84 L444.97,330.14 L445.92,336.65 L448.2,339.52 L453.1,339.59 L453.9,339.29 L455.3,337.99 L455.7,337.92 L456.3,338.29 L457.5,339.53 L458.3,339.94 L459.3,340.06 L459.9,339.9 L460.3,339.58 L460.7,338.99 L461.1,338.03 L461.5,336.72 L462.1,334.5 L462.3,333.86 L462.5,333.33 L462.7,332.98 L462.97,332.81 L463.3,333 L463.7,333.64 L464.1,334.61 L465.3,338.04 L465.9,339.32 L466.5,340.14 L467.3,340.68 L468.7,340.99 L475.9,341.41 L499.1,341.44" fill="none" stroke="#c660aa" stroke-width="0.56" stroke-linejoin="round"/>
<line x1="275" y1="341.9" x2="499.61" y2="341.9" stroke="#5a4a55" stroke-width="0.6" />
<line x1="275.5" y1="341" x2="275.5" y2="342.8" stroke="#333" stroke-width="0.6" />
<text x="275.5" y="346.44" font-size="2.9" fill="#222" text-anchor="middle" font-weight="bold" font-style="normal" font-family="&quot;Liberation Sans&quot;, sans-serif" >0</text>
<line x1="290.34" y1="341" x2="290.34" y2="342.8" stroke="#333" stroke-width="0.6" />
<text x="290.34" y="346.44" font-size="2.9" fill="#222" text-anchor="middle" font-weight="bold" font-style="normal" font-family="&quot;Liberation Sans&quot;, sans-serif" >20</text>
<line x1="305.18" y1="341" x2="305.18" y2="342.8" stroke="#333" stroke-width="0.6" />
<text x="305.18" y="346.44" font-size="2.9" fill="#222" text-anchor="middle" font-weight="bold" font-style="normal" font-family="&quot;Liberation Sans&quot;, sans-serif" >40</text>
<line x1="320.02" y1="341" x2="320.02" y2="342.8" stroke="#333" stroke-width="0.6" />
<text x="320.02" y="346.44" font-size="2.9" fill="#222" text-anchor="middle" font-weight="bold" font-style="normal" font-family="&quot;Liberation Sans&quot;, sans-serif" >60</text>
<line x1="334.86" y1="341" x2="334.86" y2="342.8" stroke="#333" stroke-width="0.6" />
<text x="334.86" y="346.44" font-size="2.9" fill="#222" text-anchor="middle" font-weight="bold" font-style="normal" font-family="&quot;Liberation Sans&quot;, sans-serif" >80</text>
<line x1="349.7" y1="341" x2="349.7" y2="342.8" stroke="#333" stroke-width="0.6" />
<text x="349.7" y="346.44" font-size="2.9" fill="#222" text-anchor="middle" font-weight="bold" font-style="normal" font-family="&quot;Liberation Sans&quot;, sans-serif" >100</text>
<line x1="364.54" y1="341" x2="364.54" y2="342.8" stroke="#333" stroke-width="0.6" />
<text x="364.54" y="346.44" font-size="2.9" fill="#222" text-anchor="middle" font-weight="bold" font-style="normal" font-family="&quot;Liberation Sans&quot;, sans-serif" >120</text>
<line x1="379.38" y1="341" x2="379.38" y2="342.8" stroke="#333" stroke-width="0.6" />
<text x="379.38" y="346.44" font-size="2.9" fill="#222" text-anchor="middle" font-weight="bold" font-style="normal" font-family="&quot;Liberation Sans&quot;, sans-serif" >140</text>
<line x1="394.22" y1="341" x2="394.22" y2="342.8" stroke="#333" stroke-width="0.6" />
<text x="394.22" y="346.44" font-size="2.9" fill="#222" text-anchor="middle" font-weight="bold" font-style="normal" font-family="&quot;Liberation Sans&quot;, sans-serif" >160</text>
<line x1="409.06" y1="341" x2="409.06" y2="342.8" stroke="#333" stroke-width="0.6" />
<text x="409.06" y="346.44" font-size="2.9" fill="#222" text-anchor="middle" font-weight="bold" font-style="normal" font-family="&quot;Liberation Sans&quot;, sans-serif" >180</text>
<line x1="423.9" y1="341" x2="423.9" y2="342.8" stroke="#333" stroke-width="0.6" />
<text x="423.9" y="346.44" font-size="2.9" fill="#222" text-anchor="middle" font-weight="bold" font-style="normal" font-family="&quot;Liberation Sans&quot;, sans-serif" >200</text>
<line x1="438.74" y1="341" x2="438.74" y2="342.8" stroke="#333" stroke-width="0.6" />
<text x="438.74" y="346.44" font-size="2.9" fill="#222" text-anchor="middle" font-weight="bold" font-style="normal" font-family="&quot;Liberation Sans&quot;, sans-serif" >220</text>
<line x1="453.59" y1="341" x2="453.59" y2="342.8" stroke="#333" stroke-width="0.6" />
<text x="453.59" y="346.44" font-size="2.9" fill="#222" text-anchor="middle" font-weight="bold" font-style="normal" font-family="&quot;Liberation Sans&quot;, sans-serif" >240</text>
<line x1="468.43" y1="341" x2="468.43" y2="342.8" stroke="#333" stroke-width="0.6" />
<text x="468.43" y="346.44" font-size="2.9" fill="#222" text-anchor="middle" font-weight="bold" font-style="normal" font-family="&quot;Liberation Sans&quot;, sans-serif" >260</text>
<line x1="483.27" y1="341" x2="483.27" y2="342.8" stroke="#333" stroke-width="0.6" />
<text x="483.27" y="346.44" font-size="2.9" fill="#222" text-anchor="middle" font-weight="bold" font-style="normal" font-family="&quot;Liberation Sans&quot;, sans-serif" >280</text>
<line x1="498.11" y1="341" x2="498.11" y2="342.8" stroke="#333" stroke-width="0.6" />
<text x="498.11" y="346.44" font-size="2.9" fill="#222" text-anchor="middle" font-weight="bold" font-style="normal" font-family="&quot;Liberation Sans&quot;, sans-serif" >300</text>
<line x1="275.5" y1="341.1" x2="275.5" y2="346.9" stroke="#555" stroke-width="0.5" />
<line x1="498.11" y1="341.1" x2="498.11" y2="346.9" stroke="#777" stroke-width="0.5" />
<text x="293.34" y="194.15" font-size="3.1" fill="#2a2a2a" text-anchor="middle" font-weight="bold" font-style="italic" font-family="&quot;Liberation Sans&quot;, sans-serif" >Z15</text>
<text x="316.24" y="194.12" font-size="3.1" fill="#2a2a2a" text-anchor="middle" font-weight="bold" font-style="italic" font-family="&quot;Liberation Sans&quot;, sans-serif" >Z14</text>
<text x="325.44" y="194.19" font-size="3.1" fill="#2a2a2a" text-anchor="middle" font-weight="bold" font-style="italic" font-family="&quot;Liberation Sans&quot;, sans-serif" >Z13</text>
<text x="342.94" y="194.23" font-size="3.1" fill="#2a2a2a" text-anchor="middle" font-weight="bold" font-style="italic" font-family="&quot;Liberation Sans&quot;, sans-serif" >Z12</text>
<text x="363.74" y="194.29" font-size="3.1" fill="#2a2a2a" text-anchor="middle" font-weight="bold" font-style="italic" font-family="&quot;Liberation Sans&quot;, sans-serif" >Z11</text>
<text x="375.04" y="194.37" font-size="3.1" fill="#2a2a2a" text-anchor="middle" font-weight="bold" font-style="italic" font-family="&quot;Liberation Sans&quot;, sans-serif" >Z10</text>
<rect x="380.85" y="191.2" width="7.7" height="4.2" fill="#f7f7f7" stroke="#4a4a4a" stroke-width="0.55" rx="0" />
<text x="384.7" y="194.42" font-size="3.1" fill="#2a2a2a" text-anchor="middle" font-weight="bold" font-style="italic" font-family="&quot;Liberation Sans&quot;, sans-serif" textLength="6.7" lengthAdjust="spacingAndGlyphs" stroke="#2a2a2a" stroke-width="0">Z(A)</text>
<text x="395.14" y="194.33" font-size="3.1" fill="#2a2a2a" text-anchor="middle" font-weight="bold" font-style="italic" font-family="&quot;Liberation Sans&quot;, sans-serif" >Z9</text>
<text x="409.14" y="194.33" font-size="3.1" fill="#2a2a2a" text-anchor="middle" font-weight="bold" font-style="italic" font-family="&quot;Liberation Sans&quot;, sans-serif" >Z(F)</text>
<text x="423.44" y="194.34" font-size="3.1" fill="#2a2a2a" text-anchor="middle" font-weight="bold" font-style="italic" font-family="&quot;Liberation Sans&quot;, sans-serif" >Z(D)</text>
<text x="433.14" y="194.32" font-size="3.1" fill="#2a2a2a" text-anchor="middle" font-weight="bold" font-style="italic" font-family="&quot;Liberation Sans&quot;, sans-serif" >Z(S)</text>
<rect x="438.46" y="191.14" width="7.6" height="4.2" fill="#f7f7f7" stroke="#4a4a4a" stroke-width="0.55" rx="0" />
<text x="442.26" y="194.36" font-size="3.1" fill="#2a2a2a" text-anchor="middle" font-weight="bold" font-style="italic" font-family="&quot;Liberation Sans&quot;, sans-serif" textLength="6.6" lengthAdjust="spacingAndGlyphs" stroke="#2a2a2a" stroke-width="0">Z(E)</text>
<rect x="447.66" y="191.21" width="10.4" height="4.2" fill="#f7f7f7" stroke="#4a4a4a" stroke-width="0.55" rx="0" />
<text x="452.86" y="194.43" font-size="3.1" fill="#2a2a2a" text-anchor="middle" font-weight="bold" font-style="italic" font-family="&quot;Liberation Sans&quot;, sans-serif" textLength="9.4" lengthAdjust="spacingAndGlyphs" stroke="#2a2a2a" stroke-width="0">Z(A2)</text>
<rect x="458.76" y="191.2" width="8.6" height="4.2" fill="#f7f7f7" stroke="#4a4a4a" stroke-width="0.55" rx="0" />
<text x="463.06" y="194.41" font-size="3.1" fill="#2a2a2a" text-anchor="middle" font-weight="bold" font-style="italic" font-family="&quot;Liberation Sans&quot;, sans-serif" textLength="7.6" lengthAdjust="spacingAndGlyphs" stroke="#2a2a2a" stroke-width="0">Z(C)</text>
<text x="478.74" y="194.06" font-size="3.1" fill="#2a2a2a" text-anchor="middle" font-weight="bold" font-style="italic" font-family="&quot;Liberation Sans&quot;, sans-serif" >Z1</text>
<rect x="381.01" y="197" width="7.5" height="4.4" fill="#f6f6f6" stroke="#333" stroke-width="0.55" rx="0" />
<text x="384.76" y="200.57" font-size="3.8" fill="#000" text-anchor="middle" font-weight="normal" font-style="normal" font-family="&quot;Liberation Sans&quot;, sans-serif" textLength="6.5" lengthAdjust="spacingAndGlyphs" stroke="#000" stroke-width="0.06">Hb A</text>
<rect x="431.99" y="238.79" width="15.3" height="4" fill="#fff" stroke="#333" stroke-width="0.55" rx="0" />
<text x="439.64" y="242.12" font-size="3.7" fill="#000" text-anchor="middle" font-weight="normal" font-style="normal" font-family="&quot;Liberation Sans&quot;, sans-serif" textLength="14.3" lengthAdjust="spacingAndGlyphs" stroke="#000" stroke-width="0.06">Hb E 222</text>
<rect x="450.48" y="332.14" width="10.2" height="3.9" fill="#fff" stroke="#333" stroke-width="0.55" rx="0" />
<text x="455.58" y="335.38" font-size="3.6" fill="#000" text-anchor="middle" font-weight="normal" font-style="normal" font-family="&quot;Liberation Sans&quot;, sans-serif" textLength="9.2" lengthAdjust="spacingAndGlyphs" stroke="#000" stroke-width="0.06">Hb A2</text>
<rect x="460.72" y="327.31" width="16.1" height="3.9" fill="#fff" stroke="#333" stroke-width="0.55" rx="0" />
<text x="468.77" y="330.56" font-size="3.6" fill="#000" text-anchor="middle" font-weight="normal" font-style="normal" font-family="&quot;Liberation Sans&quot;, sans-serif" textLength="15.1" lengthAdjust="spacingAndGlyphs" stroke="#000" stroke-width="0.06">Hb C 253</text>
<rect x="287.36" y="209.09" width="47.85" height="42.7" fill="#fff" stroke="#bdbdbd" stroke-width="0.8" rx="0.8" />
<text x="290.77" y="215.46" font-size="5.2" fill="#151515" text-anchor="start" font-weight="bold" font-style="normal" font-family="&quot;Liberation Sans&quot;, sans-serif" textLength="22.8" lengthAdjust="spacingAndGlyphs" stroke="#151515" stroke-width="0.12">Fractions</text>
<text x="331.96" y="215.78" font-size="5.2" fill="#151515" text-anchor="end" font-weight="bold" font-style="normal" font-family="&quot;Liberation Sans&quot;, sans-serif" stroke="#151515" stroke-width="0.12">%</text>
<text x="290.87" y="227.81" font-size="5.2" fill="#1f7a42" text-anchor="start" font-weight="bold" font-style="normal" font-family="&quot;Liberation Sans&quot;, sans-serif" stroke="#1f7a42" stroke-width="0.12">Hb A</text>
<text x="332.17" y="228.13" font-size="5.2" fill="#1f7a42" text-anchor="end" font-weight="bold" font-style="normal" font-family="&quot;Liberation Sans&quot;, sans-serif" stroke="#1f7a42" stroke-width="0.12">62.2</text>
<text x="290.82" y="234.74" font-size="5.2" fill="#1f7a42" text-anchor="start" font-weight="bold" font-style="normal" font-family="&quot;Liberation Sans&quot;, sans-serif" stroke="#1f7a42" stroke-width="0.12">Hb E 222</text>
<text x="332.12" y="235.06" font-size="5.2" fill="#1f7a42" text-anchor="end" font-weight="bold" font-style="normal" font-family="&quot;Liberation Sans&quot;, sans-serif" stroke="#1f7a42" stroke-width="0.12">35.5</text>
<text x="290.77" y="241.67" font-size="5.2" fill="#1f7a42" text-anchor="start" font-weight="bold" font-style="normal" font-family="&quot;Liberation Sans&quot;, sans-serif" stroke="#1f7a42" stroke-width="0.12">Hb A2</text>
<text x="332.06" y="241.99" font-size="5.2" fill="#1f7a42" text-anchor="end" font-weight="bold" font-style="normal" font-family="&quot;Liberation Sans&quot;, sans-serif" stroke="#1f7a42" stroke-width="0.12">0.5</text>
<text x="290.71" y="248.6" font-size="5.2" fill="#1f7a42" text-anchor="start" font-weight="bold" font-style="normal" font-family="&quot;Liberation Sans&quot;, sans-serif" stroke="#1f7a42" stroke-width="0.12">Hb C 253</text>
<text x="332.01" y="248.92" font-size="5.2" fill="#1f7a42" text-anchor="end" font-weight="bold" font-style="normal" font-family="&quot;Liberation Sans&quot;, sans-serif" stroke="#1f7a42" stroke-width="0.12">1.8</text>
<text x="507.8" y="198.37" font-size="3.3" fill="#1c1c1c" text-anchor="end" font-weight="bold" font-style="italic" font-family="&quot;Liberation Sans&quot;, sans-serif" textLength="23.2" lengthAdjust="spacingAndGlyphs">O.D.Max : 0.190</text>
<line x1="484.6" y1="198.92" x2="507.8" y2="198.92" stroke="#2a2a2a" stroke-width="0.55" />
<text x="507.77" y="201.77" font-size="3.3" fill="#1c1c1c" text-anchor="end" font-weight="bold" font-style="italic" font-family="&quot;Liberation Sans&quot;, sans-serif" textLength="17.2" lengthAdjust="spacingAndGlyphs">Pos. No. : 4</text>
<line x1="490.57" y1="202.32" x2="507.77" y2="202.32" stroke="#2a2a2a" stroke-width="0.55" />
<text x="507.75" y="205.17" font-size="3.3" fill="#1c1c1c" text-anchor="end" font-weight="bold" font-style="italic" font-family="&quot;Liberation Sans&quot;, sans-serif" textLength="25.2" lengthAdjust="spacingAndGlyphs">Rack No. : 52354</text>
<line x1="482.55" y1="205.72" x2="507.75" y2="205.72" stroke="#2a2a2a" stroke-width="0.55" />
<text x="507.72" y="208.77" font-size="3.3" fill="#1c1c1c" text-anchor="end" font-weight="bold" font-style="italic" font-family="&quot;Liberation Sans&quot;, sans-serif" textLength="25.5" lengthAdjust="spacingAndGlyphs">Read time : 13:31</text>
<line x1="482.22" y1="209.32" x2="507.72" y2="209.32" stroke="#2a2a2a" stroke-width="0.55" />
</g></g>
<rect x="260.2" y="194" width="21.5" height="19.2" fill="#fff" stroke="#3a3a3a" stroke-width="0.9" rx="0" />
<text x="270.3" y="209.1" font-size="10.5" fill="#0a0a0a" text-anchor="middle" font-weight="bold" font-style="normal" font-family="&quot;Liberation Sans&quot;, sans-serif" textLength="6.3" lengthAdjust="spacingAndGlyphs" stroke="#0a0a0a" stroke-width="0.35">C</text>
<g id="panelD">
<line x1="60" y1="365.1" x2="237.9" y2="365.1" stroke="#777" stroke-width="0.7" />
<line x1="237.9" y1="365.1" x2="237.9" y2="464.1" stroke="#777" stroke-width="0.7" />
<line x1="60" y1="365.1" x2="60" y2="464.1" stroke="#555" stroke-width="0.7" />
<line x1="60" y1="464.1" x2="237.9" y2="464.1" stroke="#555" stroke-width="0.8" />
<text x="56.4" y="455.8" font-size="5.5" fill="#5c5c5c" text-anchor="end" font-weight="normal" font-style="normal" font-family="&quot;Liberation Mono&quot;, monospace" >0.0</text>
<line x1="57.6" y1="453.9" x2="60" y2="453.9" stroke="#555" stroke-width="0.6" />
<text x="56.4" y="440.96" font-size="5.5" fill="#5c5c5c" text-anchor="end" font-weight="normal" font-style="normal" font-family="&quot;Liberation Mono&quot;, monospace" >7.5</text>
<line x1="57.6" y1="439.06" x2="60" y2="439.06" stroke="#555" stroke-width="0.6" />
<text x="56.4" y="426.12" font-size="5.5" fill="#5c5c5c" text-anchor="end" font-weight="normal" font-style="normal" font-family="&quot;Liberation Mono&quot;, monospace" >15.0</text>
<line x1="57.6" y1="424.22" x2="60" y2="424.22" stroke="#555" stroke-width="0.6" />
<text x="56.4" y="411.28" font-size="5.5" fill="#5c5c5c" text-anchor="end" font-weight="normal" font-style="normal" font-family="&quot;Liberation Mono&quot;, monospace" >22.5</text>
<line x1="57.6" y1="409.38" x2="60" y2="409.38" stroke="#555" stroke-width="0.6" />
<text x="56.4" y="396.44" font-size="5.5" fill="#5c5c5c" text-anchor="end" font-weight="normal" font-style="normal" font-family="&quot;Liberation Mono&quot;, monospace" >30.0</text>
<line x1="57.6" y1="394.54" x2="60" y2="394.54" stroke="#555" stroke-width="0.6" />
<text x="56.4" y="381.6" font-size="5.5" fill="#5c5c5c" text-anchor="end" font-weight="normal" font-style="normal" font-family="&quot;Liberation Mono&quot;, monospace" >37.5</text>
<line x1="57.6" y1="379.7" x2="60" y2="379.7" stroke="#555" stroke-width="0.6" />
<text x="56.4" y="366.76" font-size="5.5" fill="#5c5c5c" text-anchor="end" font-weight="normal" font-style="normal" font-family="&quot;Liberation Mono&quot;, monospace" >45.0</text>
<line x1="57.6" y1="364.86" x2="60" y2="364.86" stroke="#555" stroke-width="0.6" />
<path d="M58.2,461.81H60 M58.2,459.84H60 M58.2,457.86H60 M58.2,455.88H60 M58.2,453.9H60 M58.2,451.92H60 M58.2,449.94H60 M58.2,447.96H60 M58.2,445.99H60 M58.2,444.01H60 M58.2,442.03H60 M58.2,440.05H60 M58.2,438.07H60 M58.2,436.09H60 M58.2,434.11H60 M58.2,432.13H60 M58.2,430.16H60 M58.2,428.18H60 M58.2,426.2H60 M58.2,424.22H60 M58.2,422.24H60 M58.2,420.26H60 M58.2,418.28H60 M58.2,416.31H60 M58.2,414.33H60 M58.2,412.35H60 M58.2,410.37H60 M58.2,408.39H60 M58.2,406.41H60 M58.2,404.43H60 M58.2,402.45H60 M58.2,400.48H60 M58.2,398.5H60 M58.2,396.52H60 M58.2,394.54H60 M58.2,392.56H60 M58.2,390.58H60 M58.2,388.6H60 M58.2,386.63H60 M58.2,384.65H60 M58.2,382.67H60 M58.2,380.69H60 M58.2,378.71H60 M58.2,376.73H60 M58.2,374.75H60 M58.2,372.77H60 M58.2,370.8H60 M58.2,368.82H60 M58.2,366.84H60 " stroke="#555" stroke-width="0.6" fill="none"/>
<text x="60" y="471.6" font-size="5.6" fill="#444" text-anchor="middle" font-weight="normal" font-style="normal" font-family="&quot;Liberation Mono&quot;, monospace" >0</text>
<line x1="60" y1="461.9" x2="60" y2="464.1" stroke="#555" stroke-width="0.6" />
<text x="89.58" y="471.6" font-size="5.6" fill="#444" text-anchor="middle" font-weight="normal" font-style="normal" font-family="&quot;Liberation Mono&quot;, monospace" >1</text>
<line x1="89.58" y1="461.9" x2="89.58" y2="464.1" stroke="#555" stroke-width="0.6" />
<text x="119.17" y="471.6" font-size="5.6" fill="#444" text-anchor="middle" font-weight="normal" font-style="normal" font-family="&quot;Liberation Mono&quot;, monospace" >2</text>
<line x1="119.17" y1="461.9" x2="119.17" y2="464.1" stroke="#555" stroke-width="0.6" />
<text x="148.75" y="471.6" font-size="5.6" fill="#444" text-anchor="middle" font-weight="normal" font-style="normal" font-family="&quot;Liberation Mono&quot;, monospace" >3</text>
<line x1="148.75" y1="461.9" x2="148.75" y2="464.1" stroke="#555" stroke-width="0.6" />
<text x="178.33" y="471.6" font-size="5.6" fill="#444" text-anchor="middle" font-weight="normal" font-style="normal" font-family="&quot;Liberation Mono&quot;, monospace" >4</text>
<line x1="178.33" y1="461.9" x2="178.33" y2="464.1" stroke="#555" stroke-width="0.6" />
<text x="207.92" y="471.6" font-size="5.6" fill="#444" text-anchor="middle" font-weight="normal" font-style="normal" font-family="&quot;Liberation Mono&quot;, monospace" >5</text>
<line x1="207.92" y1="461.9" x2="207.92" y2="464.1" stroke="#555" stroke-width="0.6" />
<text x="237.5" y="471.6" font-size="5.6" fill="#444" text-anchor="middle" font-weight="normal" font-style="normal" font-family="&quot;Liberation Mono&quot;, monospace" >6</text>
<line x1="237.5" y1="461.9" x2="237.5" y2="464.1" stroke="#555" stroke-width="0.6" />
<path d="M60,462.5V464.1 M62.96,462.5V464.1 M65.92,462.5V464.1 M68.88,462.5V464.1 M71.83,462.5V464.1 M74.79,462.5V464.1 M77.75,462.5V464.1 M80.71,462.5V464.1 M83.67,462.5V464.1 M86.62,462.5V464.1 M89.58,462.5V464.1 M92.54,462.5V464.1 M95.5,462.5V464.1 M98.46,462.5V464.1 M101.42,462.5V464.1 M104.38,462.5V464.1 M107.33,462.5V464.1 M110.29,462.5V464.1 M113.25,462.5V464.1 M116.21,462.5V464.1 M119.17,462.5V464.1 M122.12,462.5V464.1 M125.08,462.5V464.1 M128.04,462.5V464.1 M131,462.5V464.1 M133.96,462.5V464.1 M136.92,462.5V464.1 M139.88,462.5V464.1 M142.83,462.5V464.1 M145.79,462.5V464.1 M148.75,462.5V464.1 M151.71,462.5V464.1 M154.67,462.5V464.1 M157.62,462.5V464.1 M160.58,462.5V464.1 M163.54,462.5V464.1 M166.5,462.5V464.1 M169.46,462.5V464.1 M172.42,462.5V464.1 M175.38,462.5V464.1 M178.33,462.5V464.1 M181.29,462.5V464.1 M184.25,462.5V464.1 M187.21,462.5V464.1 M190.17,462.5V464.1 M193.12,462.5V464.1 M196.08,462.5V464.1 M199.04,462.5V464.1 M202,462.5V464.1 M204.96,462.5V464.1 M207.92,462.5V464.1 M210.88,462.5V464.1 M213.83,462.5V464.1 M216.79,462.5V464.1 M219.75,462.5V464.1 M222.71,462.5V464.1 M225.67,462.5V464.1 M228.62,462.5V464.1 M231.58,462.5V464.1 M234.54,462.5V464.1 M237.5,462.5V464.1 " stroke="#666" stroke-width="0.45" fill="none"/>
<text x="147.3" y="480.2" font-size="6.6" fill="#3a3a3a" text-anchor="middle" font-weight="bold" font-style="normal" font-family="&quot;Liberation Mono&quot;, monospace" >Time (min.)</text>
<text x="35.8" y="414.6" font-size="5.8" fill="#222" text-anchor="middle" font-weight="bold" font-style="normal" font-family="&quot;Liberation Mono&quot;, monospace" transform="rotate(-60 35.8 414.6)" dy="1.9">%</text>
<path d="M60.2,455.29 L60.8,455.29 L61,455.79 L62.2,455.73 L62.4,455.42 L62.6,454.39 L63,450.49 L63.1,450.19 L63.2,450.32 L63.4,451.3 L63.8,454.12 L64,455.02 L64.2,455.49 L64.4,455.64 L64.8,455.5 L65.4,454.86 L65.6,454.79 L65.8,454.86 L66.6,455.65 L67.2,455.74 L67.8,455.51 L68.2,454.99 L68.4,454.55 L68.8,453.34 L69.2,452 L69.4,451.49 L69.6,451.22 L69.8,451.2 L70.2,451.56 L70.6,452.31 L71.4,454.09 L72,455.04 L72.6,455.52 L73.6,455.74 L85.4,455.59 L89.2,455.27 L89.8,455 L90,454.77 L90.2,454.41 L90.4,453.84 L90.6,452.97 L90.8,451.69 L91,449.92 L91.2,447.56 L91.4,444.61 L91.6,441.14 L92,433.42 L92.2,429.8 L92.4,426.84 L92.6,424.89 L92.8,424.18 L93,424.57 L93.2,425.76 L93.4,427.67 L93.6,430.14 L93.8,432.99 L94.2,439.08 L94.4,441.99 L94.6,444.63 L94.8,446.94 L95,448.88 L95.2,450.45 L95.4,451.68 L95.6,452.62 L95.8,453.32 L96,453.82 L96.4,454.41 L97,454.78 L99.2,455.07 L107.2,455.22 L121.6,455.39 L122.4,455.13 L123.2,454.5 L124.2,453.52 L124.8,453.35 L125.4,453.63 L126.4,454.44 L127,454.61 L127.6,454.36 L129,452.91 L129.6,452.67 L130.4,452.88 L131.6,453.73 L133.2,454.97 L134.4,455.51 L136.4,455.81 L149.8,456.19 L163,455.9 L164.8,453.95 L165.6,452.77 L166.2,451.55 L167.6,448 L168,447.27 L168.2,447.03 L168.6,447.6 L169.2,448.87 L170.53,452.17 L171.2,453.41 L171.81,454.16 L172.8,454.89 L175.2,453.43 L176.2,453.12 L176.6,453.1 L177.2,453 L179,450.5 L180.7,446 L182,432.3 L183.2,403 L183.75,365.4" fill="none" stroke="#3a3a3a" stroke-width="0.72" stroke-linejoin="round"/>
<path d="M191.3,365.4 L191.8,429 L192.3,440 L192.9,446.5 L194,450.8 L195.6,453 L198,454.2 L202,455 L210,455.5 L219.8,455.6" fill="none" stroke="#3a3a3a" stroke-width="0.72" stroke-linejoin="round"/>
<path d="M181.3,446 L182.2,432 L186.3,366 L189.3,403 L191,432 L192,443" fill="none" stroke="#3a3a3a" stroke-width="0.65" stroke-linejoin="round"/>
<path d="M89.6,455.13 L90,454.77 L90.2,454.41 L90.4,453.84 L90.6,452.97 L90.8,451.69 L91,449.92 L91.2,447.56 L91.4,444.61 L91.6,441.14 L92,433.42 L92.2,429.8 L92.4,426.84 L92.6,424.89 L92.8,424.18 L93,424.57 L93.2,425.76 L93.4,427.67 L93.6,430.14 L93.8,432.99 L94.2,439.08 L94.4,441.99 L94.6,444.63 L94.8,446.94 L95,448.88 L95.2,450.45 L95.4,451.68 L95.6,452.62 L95.8,453.32 L96,453.82 L96.4,454.41 L96.6,454.58" fill="none" stroke="#222" stroke-width="1.3" stroke-linejoin="round"/>
<line x1="89" y1="455.6" x2="97" y2="455.6" stroke="#888" stroke-width="0.35" />
<line x1="159.2" y1="456.4" x2="174" y2="452.6" stroke="#555" stroke-width="0.5" />
<line x1="116.2" y1="454.6" x2="116.2" y2="457" stroke="#555" stroke-width="0.5" />
<line x1="139.2" y1="454.6" x2="139.2" y2="457" stroke="#555" stroke-width="0.5" />
<line x1="159.2" y1="454.6" x2="159.2" y2="457" stroke="#555" stroke-width="0.5" />
<text x="84.6" y="448" font-size="4.7" fill="#8a8a8a" text-anchor="start" font-weight="normal" font-style="normal" font-family="&quot;Liberation Mono&quot;, monospace" transform="rotate(-90 84.6 448.0)">- 0.81</text>
<text x="93.9" y="421.3" font-size="4.7" fill="#8a8a8a" text-anchor="start" font-weight="normal" font-style="normal" font-family="&quot;Liberation Mono&quot;, monospace" transform="rotate(-90 93.9 421.3)">F - 1.11</text>
<text x="126.1" y="447.6" font-size="4.4" fill="#8a8a8a" text-anchor="start" font-weight="normal" font-style="normal" font-family="&quot;Liberation Mono&quot;, monospace" transform="rotate(-90 126.1 447.6)">- 2.21</text>
<text x="131.2" y="446.4" font-size="4.4" fill="#8a8a8a" text-anchor="start" font-weight="normal" font-style="normal" font-family="&quot;Liberation Mono&quot;, monospace" transform="rotate(-90 131.2 446.4)">- 2.36</text>
<text x="170.1" y="443.6" font-size="4.7" fill="#777" text-anchor="start" font-weight="normal" font-style="normal" font-family="&quot;Liberation Mono&quot;, monospace" transform="rotate(-90 170.1 443.6)">A2 - 3.66</text>
<text x="184.2" y="444.8" font-size="3.8" fill="#8a8a8a" text-anchor="start" font-weight="normal" font-style="normal" font-family="&quot;Liberation Mono&quot;, monospace" transform="rotate(-90 184.2 444.8)">4.18</text>
<text x="190.2" y="444.8" font-size="3.8" fill="#8a8a8a" text-anchor="start" font-weight="normal" font-style="normal" font-family="&quot;Liberation Mono&quot;, monospace" transform="rotate(-90 190.2 444.8)">4.37</text>
<line x1="182.9" y1="450.5" x2="182.9" y2="453" stroke="#888" stroke-width="0.4" />
<line x1="188.9" y1="450.5" x2="188.9" y2="453" stroke="#888" stroke-width="0.4" />
<rect x="254.3" y="386.8" width="232" height="13.4" fill="#dedede" stroke="none" stroke-width="1" rx="0" />
<rect x="255.2" y="387.7" width="67" height="11.5" fill="none" stroke="#f2f2f2" stroke-width="0.6" rx="0" />
<rect x="324" y="387.7" width="38.6" height="11.5" fill="none" stroke="#f2f2f2" stroke-width="0.6" rx="0" />
<rect x="364.4" y="387.7" width="27.85" height="11.5" fill="none" stroke="#f2f2f2" stroke-width="0.6" rx="0" />
<rect x="394.05" y="387.7" width="51.15" height="11.5" fill="none" stroke="#f2f2f2" stroke-width="0.6" rx="0" />
<rect x="447" y="387.7" width="38.4" height="11.5" fill="none" stroke="#f2f2f2" stroke-width="0.6" rx="0" />
<rect x="255.1" y="450.7" width="232.6" height="0.9" fill="#4a4a4a" stroke="none" stroke-width="1" rx="0" />
<rect x="486.6" y="387.6" width="0.8" height="63.7" fill="#4a4a4a" stroke="none" stroke-width="1" rx="0" />
<rect x="254.3" y="386.8" width="232" height="63.7" fill="none" stroke="#4a4a4a" stroke-width="0.8" rx="0" />
<line x1="323.1" y1="386.8" x2="323.1" y2="450.5" stroke="#555" stroke-width="0.8" />
<line x1="363.5" y1="386.8" x2="363.5" y2="450.5" stroke="#555" stroke-width="0.8" />
<line x1="393.15" y1="386.8" x2="393.15" y2="450.5" stroke="#555" stroke-width="0.8" />
<line x1="446.1" y1="386.8" x2="446.1" y2="450.5" stroke="#555" stroke-width="0.8" />
<line x1="254.3" y1="400.2" x2="486.3" y2="400.2" stroke="#4a4a4a" stroke-width="1.1" />
<line x1="254.3" y1="407.4" x2="486.3" y2="407.4" stroke="#4a4a4a" stroke-width="1.1" />
<line x1="254.3" y1="414.6" x2="486.3" y2="414.6" stroke="#4a4a4a" stroke-width="1.1" />
<line x1="254.3" y1="422" x2="486.3" y2="422" stroke="#4a4a4a" stroke-width="1.1" />
<line x1="254.3" y1="429.2" x2="486.3" y2="429.2" stroke="#4a4a4a" stroke-width="1.1" />
<line x1="254.3" y1="436.3" x2="486.3" y2="436.3" stroke="#4a4a4a" stroke-width="1.1" />
<line x1="254.3" y1="443.5" x2="486.3" y2="443.5" stroke="#4a4a4a" stroke-width="1.1" />
<text x="288.5" y="397.9" font-size="5.8" fill="#4a4a4a" text-anchor="middle" font-weight="bold" font-style="normal" font-family="&quot;Liberation Mono&quot;, monospace" >Peak Name</text>
<text x="343.2" y="391.9" font-size="6.0" fill="#4a4a4a" text-anchor="middle" font-weight="normal" font-style="normal" font-family="&quot;Liberation Mono&quot;, monospace" >Calibrated</text>
<text x="343.2" y="398.2" font-size="5.8" fill="#4a4a4a" text-anchor="middle" font-weight="bold" font-style="normal" font-family="&quot;Liberation Mono&quot;, monospace" >Area %</text>
<text x="377.8" y="398.2" font-size="5.8" fill="#4a4a4a" text-anchor="middle" font-weight="bold" font-style="normal" font-family="&quot;Liberation Mono&quot;, monospace" >Area %</text>
<text x="419.3" y="391.9" font-size="5.8" fill="#4a4a4a" text-anchor="middle" font-weight="normal" font-style="normal" font-family="&quot;Liberation Mono&quot;, monospace" >Retention</text>
<text x="419.3" y="398.2" font-size="5.8" fill="#4a4a4a" text-anchor="middle" font-weight="normal" font-style="normal" font-family="&quot;Liberation Mono&quot;, monospace" >Time (min)</text>
<text x="466.2" y="391.9" font-size="5.8" fill="#4a4a4a" text-anchor="middle" font-weight="normal" font-style="normal" font-family="&quot;Liberation Mono&quot;, monospace" >Peak</text>
<text x="466.2" y="398.2" font-size="5.8" fill="#4a4a4a" text-anchor="middle" font-weight="normal" font-style="normal" font-family="&quot;Liberation Mono&quot;, monospace" >Area</text>
<text x="288.5" y="405.7" font-size="5.8" fill="#5a5a5a" text-anchor="middle" font-weight="normal" font-style="normal" font-family="&quot;Liberation Mono&quot;, monospace" >P1</text>
<text x="341.3" y="405.7" font-size="5.8" fill="#5a5a5a" text-anchor="middle" font-weight="normal" font-style="normal" font-family="&quot;Liberation Mono&quot;, monospace" >---</text>
<text x="376" y="405.7" font-size="5.8" fill="#5a5a5a" text-anchor="middle" font-weight="normal" font-style="normal" font-family="&quot;Liberation Mono&quot;, monospace" >0.1</text>
<text x="419" y="405.7" font-size="5.8" fill="#5a5a5a" text-anchor="middle" font-weight="normal" font-style="normal" font-family="&quot;Liberation Mono&quot;, monospace" >0.81</text>
<text x="483.2" y="405.7" font-size="5.8" fill="#5a5a5a" text-anchor="end" font-weight="normal" font-style="normal" font-family="&quot;Liberation Mono&quot;, monospace" >764</text>
<text x="288.5" y="412.9" font-size="5.8" fill="#5a5a5a" text-anchor="middle" font-weight="normal" font-style="normal" font-family="&quot;Liberation Mono&quot;, monospace" >F</text>
<text x="342.5" y="412.9" font-size="5.8" fill="#5a5a5a" text-anchor="middle" font-weight="normal" font-style="normal" font-family="&quot;Liberation Mono&quot;, monospace" >11.3*</text>
<text x="376" y="412.9" font-size="5.8" fill="#5a5a5a" text-anchor="middle" font-weight="normal" font-style="normal" font-family="&quot;Liberation Mono&quot;, monospace" >---</text>
<text x="419" y="412.9" font-size="5.8" fill="#5a5a5a" text-anchor="middle" font-weight="normal" font-style="normal" font-family="&quot;Liberation Mono&quot;, monospace" >1.11</text>
<text x="483.2" y="412.9" font-size="5.8" fill="#5a5a5a" text-anchor="end" font-weight="normal" font-style="normal" font-family="&quot;Liberation Mono&quot;, monospace" >147715</text>
<text x="288.5" y="420.2" font-size="5.8" fill="#5a5a5a" text-anchor="middle" font-weight="normal" font-style="normal" font-family="&quot;Liberation Mono&quot;, monospace" >Unknown</text>
<text x="341.3" y="420.2" font-size="5.8" fill="#5a5a5a" text-anchor="middle" font-weight="normal" font-style="normal" font-family="&quot;Liberation Mono&quot;, monospace" >---</text>
<text x="376" y="420.2" font-size="5.8" fill="#5a5a5a" text-anchor="middle" font-weight="normal" font-style="normal" font-family="&quot;Liberation Mono&quot;, monospace" >1.3</text>
<text x="419" y="420.2" font-size="5.8" fill="#5a5a5a" text-anchor="middle" font-weight="normal" font-style="normal" font-family="&quot;Liberation Mono&quot;, monospace" >2.21</text>
<text x="483.2" y="420.2" font-size="5.8" fill="#5a5a5a" text-anchor="end" font-weight="normal" font-style="normal" font-family="&quot;Liberation Mono&quot;, monospace" >17665</text>
<text x="288.5" y="427.5" font-size="5.8" fill="#5a5a5a" text-anchor="middle" font-weight="normal" font-style="normal" font-family="&quot;Liberation Mono&quot;, monospace" >Ao</text>
<text x="341.3" y="427.5" font-size="5.8" fill="#5a5a5a" text-anchor="middle" font-weight="normal" font-style="normal" font-family="&quot;Liberation Mono&quot;, monospace" >---</text>
<text x="376" y="427.5" font-size="5.8" fill="#5a5a5a" text-anchor="middle" font-weight="normal" font-style="normal" font-family="&quot;Liberation Mono&quot;, monospace" >2.1</text>
<text x="419" y="427.5" font-size="5.8" fill="#5a5a5a" text-anchor="middle" font-weight="normal" font-style="normal" font-family="&quot;Liberation Mono&quot;, monospace" >2.36</text>
<text x="483.2" y="427.5" font-size="5.8" fill="#5a5a5a" text-anchor="end" font-weight="normal" font-style="normal" font-family="&quot;Liberation Mono&quot;, monospace" >27667</text>
<text x="288.5" y="434.65" font-size="5.8" fill="#5a5a5a" text-anchor="middle" font-weight="normal" font-style="normal" font-family="&quot;Liberation Mono&quot;, monospace" >A2</text>
<text x="342.5" y="434.65" font-size="5.8" fill="#5a5a5a" text-anchor="middle" font-weight="normal" font-style="normal" font-family="&quot;Liberation Mono&quot;, monospace" >3.8*</text>
<text x="376" y="434.65" font-size="5.8" fill="#5a5a5a" text-anchor="middle" font-weight="normal" font-style="normal" font-family="&quot;Liberation Mono&quot;, monospace" >---</text>
<text x="419" y="434.65" font-size="5.8" fill="#5a5a5a" text-anchor="middle" font-weight="normal" font-style="normal" font-family="&quot;Liberation Mono&quot;, monospace" >3.66</text>
<text x="483.2" y="434.65" font-size="5.8" fill="#5a5a5a" text-anchor="end" font-weight="normal" font-style="normal" font-family="&quot;Liberation Mono&quot;, monospace" >54195</text>
<text x="288.5" y="441.8" font-size="5.8" fill="#5a5a5a" text-anchor="middle" font-weight="normal" font-style="normal" font-family="&quot;Liberation Mono&quot;, monospace" >D-window</text>
<text x="341.3" y="441.8" font-size="5.8" fill="#5a5a5a" text-anchor="middle" font-weight="normal" font-style="normal" font-family="&quot;Liberation Mono&quot;, monospace" >---</text>
<text x="376" y="441.8" font-size="5.8" fill="#5a5a5a" text-anchor="middle" font-weight="normal" font-style="normal" font-family="&quot;Liberation Mono&quot;, monospace" >14.9</text>
<text x="419" y="441.8" font-size="5.8" fill="#5a5a5a" text-anchor="middle" font-weight="normal" font-style="normal" font-family="&quot;Liberation Mono&quot;, monospace" >4.18</text>
<text x="483.2" y="441.8" font-size="5.8" fill="#5a5a5a" text-anchor="end" font-weight="normal" font-style="normal" font-family="&quot;Liberation Mono&quot;, monospace" >197898</text>
<text x="288.5" y="448.9" font-size="5.8" fill="#5a5a5a" text-anchor="middle" font-weight="normal" font-style="normal" font-family="&quot;Liberation Mono&quot;, monospace" >S-window</text>
<text x="341.3" y="448.9" font-size="5.8" fill="#5a5a5a" text-anchor="middle" font-weight="normal" font-style="normal" font-family="&quot;Liberation Mono&quot;, monospace" >---</text>
<text x="376" y="448.9" font-size="5.8" fill="#5a5a5a" text-anchor="middle" font-weight="normal" font-style="normal" font-family="&quot;Liberation Mono&quot;, monospace" >66.4</text>
<text x="419" y="448.9" font-size="5.8" fill="#5a5a5a" text-anchor="middle" font-weight="normal" font-style="normal" font-family="&quot;Liberation Mono&quot;, monospace" >4.37</text>
<text x="483.2" y="448.9" font-size="5.8" fill="#5a5a5a" text-anchor="end" font-weight="normal" font-style="normal" font-family="&quot;Liberation Mono&quot;, monospace" >881069</text>
<rect x="11.5" y="364.8" width="19" height="19.4" fill="#fff" stroke="#636363" stroke-width="1.1" rx="0.8" />
<text x="21.6" y="379.7" font-size="10.5" fill="#0a0a0a" text-anchor="middle" font-weight="bold" font-style="normal" font-family="&quot;Liberation Sans&quot;, sans-serif" textLength="6.5" lengthAdjust="spacingAndGlyphs" stroke="#0a0a0a" stroke-width="0.35">D</text>
</g>
<g id="panelE">
<defs>
<filter id="blurA" x="-10%" y="-60%" width="120%" height="220%"><feGaussianBlur stdDeviation="2.0 2.4"/></filter>
<filter id="blurB" x="-100%" y="-30%" width="300%" height="160%"><feGaussianBlur stdDeviation="1.0 1.8"/></filter>
<filter id="blurC" x="-100%" y="-30%" width="300%" height="160%"><feGaussianBlur stdDeviation="1.6 2.0"/></filter>
<linearGradient id="lane1" x1="69" x2="244" y1="0" y2="0" gradientUnits="userSpaceOnUse">
<stop offset="0" stop-color="#d9bd9b" stop-opacity="0"/><stop offset="0.035" stop-color="#cda77a" stop-opacity="0.95"/><stop offset="0.12" stop-color="#d8bb96" stop-opacity="0.95"/><stop offset="0.27" stop-color="#d2ae82" stop-opacity="1"/><stop offset="0.45" stop-color="#cca676" stop-opacity="1"/><stop offset="0.68" stop-color="#d2ae84" stop-opacity="1"/><stop offset="0.85" stop-color="#dcc09e" stop-opacity="0.95"/><stop offset="1" stop-color="#d0aa7e" stop-opacity="1"/>
</linearGradient>
<linearGradient id="lane2" x1="73" x2="218" y1="0" y2="0" gradientUnits="userSpaceOnUse">
<stop offset="0" stop-color="#d9bd9b" stop-opacity="0"/><stop offset="0.05" stop-color="#cfaa7e" stop-opacity="0.95"/><stop offset="0.2" stop-color="#dcc29f" stop-opacity="0.85"/><stop offset="0.36" stop-color="#cca676" stop-opacity="1"/><stop offset="0.55" stop-color="#d6b890" stop-opacity="0.95"/><stop offset="0.8" stop-color="#dfc8aa" stop-opacity="0.85"/><stop offset="1" stop-color="#efe6d8" stop-opacity="0"/>
</linearGradient>
<clipPath id="gelclip"><rect x="35.3" y="507" width="208.5" height="87"/></clipPath>
</defs>
<rect x="35.3" y="507" width="208.5" height="87" fill="#f4f3ee" stroke="none" stroke-width="1" rx="0" />
<g clip-path="url(#gelclip)">
<path d="M68,534 Q78,527 88,533 L104,534 L120,531 L150,530 L185,533 L215,536 L247,536 L247,548 L215,548 L185,551 L150,554 L120,550 L104,547 L88,551 Q78,556 68,550 Z" fill="url(#lane1)" filter="url(#blurA)"/>
<path d="M72,570 Q82,566 90,571 L104,570 L120,567 L142,568 L165,572 L218,579 L218,584 L165,589 L142,591 L120,592 L104,589 L90,588 Q82,591 72,588 Z" fill="url(#lane2)" filter="url(#blurA)"/>
<ellipse cx="81.5" cy="542" rx="4.6" ry="10.5" fill="#b88c58" opacity="0.7" filter="url(#blurC)"/>
<rect x="119.5" y="530" width="2.6" height="22" fill="#a87a42" opacity="0.75" filter="url(#blurB)"/>
<rect x="124.7" y="531" width="1.8" height="20" fill="#b08850" opacity="0.5" filter="url(#blurB)"/>
<rect x="128.5" y="531" width="1.8" height="20" fill="#b08850" opacity="0.5" filter="url(#blurB)"/>
<rect x="140.6" y="530" width="2.4" height="23" fill="#a87c46" opacity="0.65" filter="url(#blurB)"/>
<rect x="148.5" y="528" width="2.6" height="28" fill="#946a2c" opacity="0.95" filter="url(#blurB)"/>
<rect x="153.5" y="530" width="1.8" height="24" fill="#b08850" opacity="0.55" filter="url(#blurB)"/>
<rect x="158.9" y="531" width="1.8" height="22" fill="#b08850" opacity="0.45" filter="url(#blurB)"/>
<rect x="171.3" y="530" width="2.4" height="23" fill="#a87c46" opacity="0.65" filter="url(#blurB)"/>
<rect x="175.2" y="531" width="1.6" height="21" fill="#b08850" opacity="0.45" filter="url(#blurB)"/>
<rect x="183.4" y="530" width="2.4" height="23" fill="#9c7034" opacity="0.85" filter="url(#blurB)"/>
<rect x="188.2" y="533" width="1.6" height="18" fill="#b89464" opacity="0.4" filter="url(#blurB)"/>
<rect x="206.2" y="534" width="1.6" height="16" fill="#c3a27a" opacity="0.35" filter="url(#blurB)"/>
<rect x="221.1" y="535" width="1.8" height="14" fill="#c3a27a" opacity="0.35" filter="url(#blurB)"/>
<ellipse cx="83" cy="579" rx="3.6" ry="9.5" fill="#b88c58" opacity="0.75" filter="url(#blurC)"/>
<rect x="103.8" y="569" width="2.4" height="21" fill="#a87c46" opacity="0.75" filter="url(#blurB)"/>
<rect x="109.6" y="570" width="1.8" height="20" fill="#b89464" opacity="0.5" filter="url(#blurB)"/>
<rect x="113.6" y="570" width="1.8" height="20" fill="#b89464" opacity="0.5" filter="url(#blurB)"/>
<rect x="119.1" y="564" width="3.4" height="29" fill="#915f22" opacity="1.0" filter="url(#blurB)"/>
<rect x="123.5" y="566" width="2.0" height="26" fill="#a87c46" opacity="0.6" filter="url(#blurB)"/>
<rect x="128.4" y="567" width="2.0" height="24" fill="#a87c46" opacity="0.65" filter="url(#blurB)"/>
<rect x="132" y="568" width="1.8" height="23" fill="#b08850" opacity="0.55" filter="url(#blurB)"/>
<rect x="137.1" y="567" width="2.4" height="24" fill="#a2763c" opacity="0.75" filter="url(#blurB)"/>
<rect x="140.6" y="568" width="1.8" height="22" fill="#b08850" opacity="0.5" filter="url(#blurB)"/>
<rect x="206.7" y="574" width="1.6" height="14" fill="#d8c4aa" opacity="0.4" filter="url(#blurB)"/>
<rect x="117.5" y="591" width="7" height="6" fill="#b5864a" opacity="0.6" filter="url(#blurB)"/>
<rect x="146" y="592" width="6" height="5" fill="#c09a66" opacity="0.6" filter="url(#blurB)"/>
<rect x="88" y="572" width="15" height="1.1" fill="#c9a57a" opacity="0.5" filter="url(#blurB)"/>
<rect x="88" y="575.5" width="15" height="1.1" fill="#c9a57a" opacity="0.5" filter="url(#blurB)"/>
<rect x="88" y="579" width="15" height="1.1" fill="#c9a57a" opacity="0.5" filter="url(#blurB)"/>
<rect x="88" y="582.5" width="15" height="1.1" fill="#c9a57a" opacity="0.5" filter="url(#blurB)"/>
<rect x="88" y="586" width="15" height="1.1" fill="#c9a57a" opacity="0.5" filter="url(#blurB)"/>
</g>
<rect x="35.3" y="507" width="208.5" height="87" fill="none" stroke="#5a5a5a" stroke-width="1" rx="0" />
<text x="75.5" y="523" font-size="7.1" fill="#2b2b2b" text-anchor="start" font-weight="bold" font-style="normal" font-family="&quot;Liberation Serif&quot;, serif" textLength="4.5" lengthAdjust="spacingAndGlyphs" stroke="#2b2b2b" stroke-width="0.1">C</text>
<text x="81.8" y="523" font-size="7.1" fill="#2b2b2b" text-anchor="start" font-weight="bold" font-style="normal" font-family="&quot;Liberation Serif&quot;, serif" textLength="8.1" lengthAdjust="spacingAndGlyphs" stroke="#2b2b2b" stroke-width="0.1">A2</text>
<text x="118" y="523" font-size="7.1" fill="#2b2b2b" text-anchor="start" font-weight="bold" font-style="normal" font-family="&quot;Liberation Serif&quot;, serif" textLength="3.2" lengthAdjust="spacingAndGlyphs" stroke="#2b2b2b" stroke-width="0.1">S</text>
<text x="122.7" y="523" font-size="7.1" fill="#2b2b2b" text-anchor="start" font-weight="bold" font-style="normal" font-family="&quot;Liberation Serif&quot;, serif" textLength="4.7" lengthAdjust="spacingAndGlyphs" stroke="#2b2b2b" stroke-width="0.1">G</text>
<text x="127.5" y="523" font-size="5.1" fill="#2b2b2b" text-anchor="start" font-weight="bold" font-style="normal" font-family="&quot;Liberation Serif&quot;, serif" textLength="9.4" lengthAdjust="spacingAndGlyphs" stroke="#2b2b2b" stroke-width="0.1">phil</text>
<text x="140.2" y="523" font-size="7.1" fill="#2b2b2b" text-anchor="start" font-weight="bold" font-style="normal" font-family="&quot;Liberation Serif&quot;, serif" textLength="3.7" lengthAdjust="spacingAndGlyphs" stroke="#2b2b2b" stroke-width="0.1">F</text>
<text x="148.3" y="523" font-size="7.1" fill="#2b2b2b" text-anchor="start" font-weight="bold" font-style="normal" font-family="&quot;Liberation Serif&quot;, serif" textLength="4.9" lengthAdjust="spacingAndGlyphs" stroke="#2b2b2b" stroke-width="0.1">A</text>
<text x="169.2" y="523" font-size="7.1" fill="#2b2b2b" text-anchor="start" font-weight="bold" font-style="normal" font-family="&quot;Liberation Serif&quot;, serif" textLength="3" lengthAdjust="spacingAndGlyphs" stroke="#2b2b2b" stroke-width="0.1">J</text>
<text x="172.3" y="523" font-size="5.1" fill="#2b2b2b" text-anchor="start" font-weight="bold" font-style="normal" font-family="&quot;Liberation Serif&quot;, serif" textLength="9.1" lengthAdjust="spacingAndGlyphs" stroke="#2b2b2b" stroke-width="0.1">balt</text>
<text x="184.4" y="523" font-size="7.1" fill="#2b2b2b" text-anchor="start" font-weight="bold" font-style="normal" font-family="&quot;Liberation Serif&quot;, serif" textLength="2" lengthAdjust="spacingAndGlyphs" stroke="#2b2b2b" stroke-width="0.1">I</text>
<text x="206.9" y="523" font-size="7.1" fill="#2b2b2b" text-anchor="start" font-weight="bold" font-style="normal" font-family="&quot;Liberation Serif&quot;, serif" textLength="4.9" lengthAdjust="spacingAndGlyphs" stroke="#2b2b2b" stroke-width="0.1">H</text>
<text x="268.25" y="538" font-size="8.8" fill="#141414" text-anchor="start" font-weight="bold" font-style="normal" font-family="&quot;Liberation Sans&quot;, sans-serif" textLength="29.2" lengthAdjust="spacingAndGlyphs">Control</text>
<text x="268.25" y="578.75" font-size="8.8" fill="#141414" text-anchor="start" font-weight="bold" font-style="normal" font-family="&quot;Liberation Sans&quot;, sans-serif" textLength="108" lengthAdjust="spacingAndGlyphs">Hb SS on voxelotor therapy</text>
<rect x="5.2" y="499.4" width="17.8" height="20" fill="#fff" stroke="#3a3a3a" stroke-width="0.9" rx="0" />
<text x="14.3" y="514.2" font-size="10.2" fill="#0a0a0a" text-anchor="middle" font-weight="bold" font-style="normal" font-family="&quot;Liberation Sans&quot;, sans-serif" textLength="5.2" lengthAdjust="spacingAndGlyphs" stroke="#0a0a0a" stroke-width="0.35">E</text>
</g>
<g id="borders">
<line x1="2.3" y1="2.2" x2="2.3" y2="608" stroke="#5e5e5e" stroke-width="1.3" />
<line x1="517.5" y1="2.2" x2="517.5" y2="608" stroke="#5e5e5e" stroke-width="1.2" />
<line x1="1.7" y1="2.85" x2="518.1" y2="2.85" stroke="#5e5e5e" stroke-width="1.3" />
<line x1="1.7" y1="607.3" x2="518.1" y2="607.3" stroke="#5e5e5e" stroke-width="1.2" />
<line x1="257.4" y1="2.5" x2="257.4" y2="354.6" stroke="#3c3c3c" stroke-width="1.1" />
<line x1="256.4" y1="187.8" x2="518" y2="187.8" stroke="#555" stroke-width="1.4" />
<line x1="1.7" y1="354.6" x2="518" y2="354.6" stroke="#555" stroke-width="1.4" />
<line x1="1.7" y1="495" x2="518" y2="495" stroke="#444" stroke-width="1.0" />
</g>
</g>
</svg>
</body></html>
